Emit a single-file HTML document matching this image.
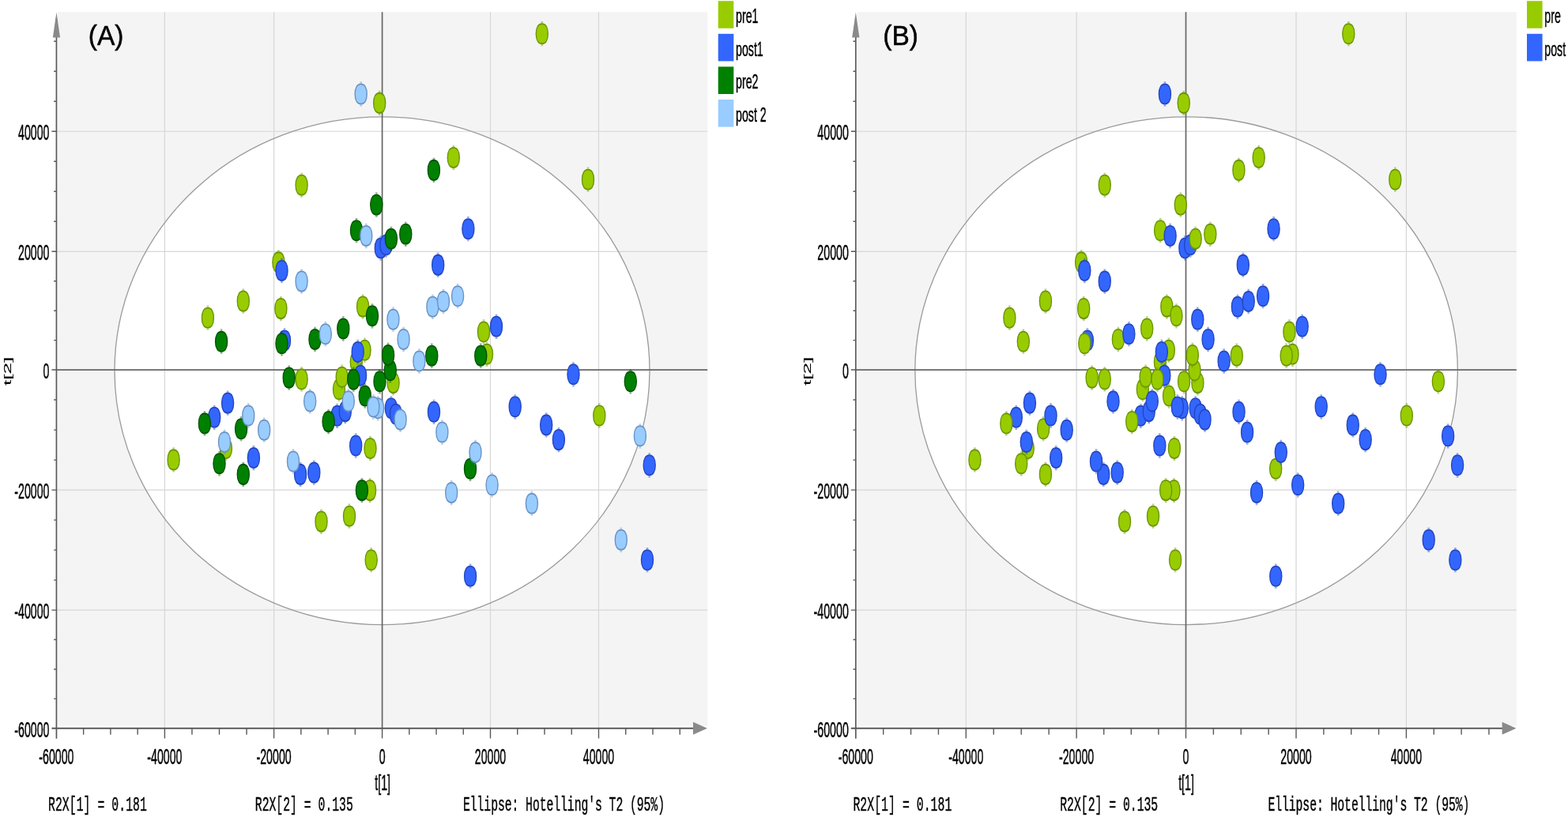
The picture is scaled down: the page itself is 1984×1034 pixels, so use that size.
<!DOCTYPE html>
<html><head><meta charset="utf-8"><title>PCA score plots</title>
<style>
html,body{margin:0;padding:0;background:#fff;}
body{width:1984px;height:1034px;overflow:hidden;}
svg{display:block;}
.t{font-family:"Liberation Sans",Arial,sans-serif;font-size:14.2px;fill:#000;stroke:#000;stroke-width:0.25px;}
.m{font-family:"Liberation Mono","Courier New",monospace;font-size:14.75px;fill:#000;stroke:#000;stroke-width:0.25px;}
.big{font-family:"Liberation Sans",Arial,sans-serif;font-size:33.5px;fill:#000;stroke:#000;stroke-width:0.5px;}
</style></head>
<body>
<svg width="1984" height="1034" viewBox="0 0 1984 1034">
<rect width="1984" height="1034" fill="#fff"/>
<rect x="73.05" y="15.2" width="822.15" height="903.5" fill="#f4f4f4"/>
<ellipse cx="483.5" cy="469.25" rx="338.5" ry="321.35" fill="#ffffff"/>
<line x1="208.4" y1="15.2" x2="208.4" y2="921.8" stroke="#d6d6d6" stroke-width="1.2"/>
<line x1="346.6" y1="15.2" x2="346.6" y2="921.8" stroke="#d6d6d6" stroke-width="1.2"/>
<line x1="620.5" y1="15.2" x2="620.5" y2="921.8" stroke="#d6d6d6" stroke-width="1.2"/>
<line x1="757.5" y1="15.2" x2="757.5" y2="921.8" stroke="#d6d6d6" stroke-width="1.2"/>
<line x1="71.45" y1="166.25" x2="895.2" y2="166.25" stroke="#d6d6d6" stroke-width="1.2"/>
<line x1="71.45" y1="318.3" x2="895.2" y2="318.3" stroke="#d6d6d6" stroke-width="1.2"/>
<line x1="71.45" y1="620.1" x2="895.2" y2="620.1" stroke="#d6d6d6" stroke-width="1.2"/>
<line x1="71.45" y1="772.1" x2="895.2" y2="772.1" stroke="#d6d6d6" stroke-width="1.2"/>
<ellipse cx="483.5" cy="469.25" rx="338.5" ry="321.35" fill="none" stroke="#9a9a9a" stroke-width="1.3"/>
<line x1="483.6" y1="15.2" x2="483.6" y2="921.8" stroke="#666" stroke-width="1.7"/>
<line x1="71.45" y1="468.05" x2="895.2" y2="468.05" stroke="#666" stroke-width="1.7"/>
<line x1="71.45" y1="23.2" x2="71.45" y2="934.8" stroke="#585858" stroke-width="1.7"/>
<line x1="65.45" y1="921.8" x2="887.2" y2="921.8" stroke="#585858" stroke-width="2"/>
<polygon points="66.85,47.4 76.05,47.4 71.45,15.5" fill="#8a8a8a"/>
<polygon points="877,913.8 877,929.8 894.9,921.8" fill="#8a8a8a"/>
<path d="M105.65 921.8v8M139.9 921.8v8M174.15 921.8v8M208.4 921.8v12.6M242.95 921.8v8M277.5 921.8v8M312.05 921.8v8M346.6 921.8v12.6M380.85 921.8v8M415.1 921.8v8M449.35 921.8v8M483.6 921.8v12.6M517.83 921.8v8M552.05 921.8v8M586.27 921.8v8M620.5 921.8v12.6M654.75 921.8v8M689 921.8v8M723.25 921.8v8M757.5 921.8v12.6M791.75 921.8v8M826 921.8v8M860.25 921.8v8M71.45 884.38h-3.3M71.45 846.95h-3.3M71.45 809.52h-3.3M71.45 772.1h-6M71.45 734.1h-3.3M71.45 696.1h-3.3M71.45 658.1h-3.3M71.45 620.1h-6M71.45 582.09h-3.3M71.45 544.08h-3.3M71.45 506.06h-3.3M71.45 468.05h-6M71.45 430.61h-3.3M71.45 393.18h-3.3M71.45 355.74h-3.3M71.45 318.3h-6M71.45 280.29h-3.3M71.45 242.28h-3.3M71.45 204.26h-3.3M71.45 166.25h-6M71.45 128.24h-3.3M71.45 90.22h-3.3M71.45 52.21h-3.3" stroke="#585858" stroke-width="1.4" fill="none"/>
<text class="t" text-anchor="middle" transform="translate(71.4 966.9) scale(1 1.89)">-60000</text>
<text class="t" text-anchor="middle" transform="translate(208.4 966.9) scale(1 1.89)">-40000</text>
<text class="t" text-anchor="middle" transform="translate(346.6 966.9) scale(1 1.89)">-20000</text>
<text class="t" text-anchor="middle" transform="translate(483.6 966.9) scale(1 1.89)">0</text>
<text class="t" text-anchor="middle" transform="translate(620.5 966.9) scale(1 1.89)">20000</text>
<text class="t" text-anchor="middle" transform="translate(757.5 966.9) scale(1 1.89)">40000</text>
<text class="t" text-anchor="end" transform="translate(62.45 177.25) scale(1 1.89)">40000</text>
<text class="t" text-anchor="end" transform="translate(62.45 329.3) scale(1 1.89)">20000</text>
<text class="t" text-anchor="end" transform="translate(62.45 479.05) scale(1 1.89)">0</text>
<text class="t" text-anchor="end" transform="translate(62.45 631.1) scale(1 1.89)">-20000</text>
<text class="t" text-anchor="end" transform="translate(62.45 783.1) scale(1 1.89)">-40000</text>
<text class="t" text-anchor="end" transform="translate(62.45 932.8) scale(1 1.89)">-60000</text>
<text class="t" text-anchor="middle" transform="translate(484.1 1000.3) scale(1 1.89)">t[1]</text>
<text class="t" text-anchor="middle" style="font-size:13.6px;stroke-width:0.1px" transform="translate(14.15 469.9) rotate(-90) scale(1.92 1)">t[2]</text>
<text class="m" textLength="124.9" lengthAdjust="spacing" transform="translate(61 1026.3) scale(1 1.7)">R2X[1] = 0.181</text>
<text class="m" textLength="124" lengthAdjust="spacing" transform="translate(322.8 1026.3) scale(1 1.7)">R2X[2] = 0.135</text>
<text class="m" textLength="255" lengthAdjust="spacing" transform="translate(586 1026.3) scale(1 1.7)">Ellipse: Hotelling's T2 (95%)</text>
<text class="big" transform="translate(111.8 57.3) scale(1 1.04)">(A)</text>
<rect x="908.7" y="1.2" width="19.6" height="34.6" fill="#99cc00"/>
<text class="t" transform="translate(931 29) scale(1 1.78)">pre1</text>
<rect x="908.7" y="42.8" width="19.6" height="34.6" fill="#3366ff"/>
<text class="t" transform="translate(931 70.6) scale(1 1.78)">post1</text>
<rect x="908.7" y="84.4" width="19.6" height="34.6" fill="#008000"/>
<text class="t" transform="translate(931 112.2) scale(1 1.78)">pre2</text>
<rect x="908.7" y="126" width="19.6" height="34.6" fill="#99ccff"/>
<text class="t" transform="translate(931 153.8) scale(1 1.78)">post 2</text>
<g fill="#99cc00" stroke="#6a9600" stroke-width="1.4"><path d="M684.5 27.05h2.6v2.2h-2.6zM684.5 56.15h2.6v2.2h-2.6z" fill="#6a9600" stroke="none" opacity="0.45"/><path transform="translate(685.8 42.7) scale(1 1.3)" d="M7.5 0C7.5 6.03 4.65 9.72 0 9.72C-4.65 9.72 -7.5 6.03 -7.5 0C-7.5 -6.03 -4.65 -9.72 0 -9.72C4.65 -9.72 7.5 -6.03 7.5 0Z"/><path d="M478.9 114.75h2.6v2.2h-2.6zM478.9 143.85h2.6v2.2h-2.6z" fill="#6a9600" stroke="none" opacity="0.45"/><path transform="translate(480.2 130.4) scale(1 1.3)" d="M7.5 0C7.5 6.03 4.65 9.72 0 9.72C-4.65 9.72 -7.5 6.03 -7.5 0C-7.5 -6.03 -4.65 -9.72 0 -9.72C4.65 -9.72 7.5 -6.03 7.5 0Z"/><path d="M572.5 183.85h2.6v2.2h-2.6zM572.5 212.95h2.6v2.2h-2.6z" fill="#6a9600" stroke="none" opacity="0.45"/><path transform="translate(573.8 199.5) scale(1 1.3)" d="M7.5 0C7.5 6.03 4.65 9.72 0 9.72C-4.65 9.72 -7.5 6.03 -7.5 0C-7.5 -6.03 -4.65 -9.72 0 -9.72C4.65 -9.72 7.5 -6.03 7.5 0Z"/><path d="M380.3 218.65h2.6v2.2h-2.6zM380.3 247.75h2.6v2.2h-2.6z" fill="#6a9600" stroke="none" opacity="0.45"/><path transform="translate(381.6 234.3) scale(1 1.3)" d="M7.5 0C7.5 6.03 4.65 9.72 0 9.72C-4.65 9.72 -7.5 6.03 -7.5 0C-7.5 -6.03 -4.65 -9.72 0 -9.72C4.65 -9.72 7.5 -6.03 7.5 0Z"/><path d="M742.7 211.55h2.6v2.2h-2.6zM742.7 240.65h2.6v2.2h-2.6z" fill="#6a9600" stroke="none" opacity="0.45"/><path transform="translate(744 227.2) scale(1 1.3)" d="M7.5 0C7.5 6.03 4.65 9.72 0 9.72C-4.65 9.72 -7.5 6.03 -7.5 0C-7.5 -6.03 -4.65 -9.72 0 -9.72C4.65 -9.72 7.5 -6.03 7.5 0Z"/><path d="M351.1 316.25h2.6v2.2h-2.6zM351.1 345.35h2.6v2.2h-2.6z" fill="#6a9600" stroke="none" opacity="0.45"/><path transform="translate(352.4 331.9) scale(1 1.3)" d="M7.5 0C7.5 6.03 4.65 9.72 0 9.72C-4.65 9.72 -7.5 6.03 -7.5 0C-7.5 -6.03 -4.65 -9.72 0 -9.72C4.65 -9.72 7.5 -6.03 7.5 0Z"/><path d="M306.5 365.45h2.6v2.2h-2.6zM306.5 394.55h2.6v2.2h-2.6z" fill="#6a9600" stroke="none" opacity="0.45"/><path transform="translate(307.8 381.1) scale(1 1.3)" d="M7.5 0C7.5 6.03 4.65 9.72 0 9.72C-4.65 9.72 -7.5 6.03 -7.5 0C-7.5 -6.03 -4.65 -9.72 0 -9.72C4.65 -9.72 7.5 -6.03 7.5 0Z"/><path d="M261.6 386.55h2.6v2.2h-2.6zM261.6 415.65h2.6v2.2h-2.6z" fill="#6a9600" stroke="none" opacity="0.45"/><path transform="translate(262.9 402.2) scale(1 1.3)" d="M7.5 0C7.5 6.03 4.65 9.72 0 9.72C-4.65 9.72 -7.5 6.03 -7.5 0C-7.5 -6.03 -4.65 -9.72 0 -9.72C4.65 -9.72 7.5 -6.03 7.5 0Z"/><path d="M354.1 374.95h2.6v2.2h-2.6zM354.1 404.05h2.6v2.2h-2.6z" fill="#6a9600" stroke="none" opacity="0.45"/><path transform="translate(355.4 390.6) scale(1 1.3)" d="M7.5 0C7.5 6.03 4.65 9.72 0 9.72C-4.65 9.72 -7.5 6.03 -7.5 0C-7.5 -6.03 -4.65 -9.72 0 -9.72C4.65 -9.72 7.5 -6.03 7.5 0Z"/><path d="M457.8 372.45h2.6v2.2h-2.6zM457.8 401.55h2.6v2.2h-2.6z" fill="#6a9600" stroke="none" opacity="0.45"/><path transform="translate(459.1 388.1) scale(1 1.3)" d="M7.5 0C7.5 6.03 4.65 9.72 0 9.72C-4.65 9.72 -7.5 6.03 -7.5 0C-7.5 -6.03 -4.65 -9.72 0 -9.72C4.65 -9.72 7.5 -6.03 7.5 0Z"/><path d="M460.2 427.55h2.6v2.2h-2.6zM460.2 456.65h2.6v2.2h-2.6z" fill="#6a9600" stroke="none" opacity="0.45"/><path transform="translate(461.5 443.2) scale(1 1.3)" d="M7.5 0C7.5 6.03 4.65 9.72 0 9.72C-4.65 9.72 -7.5 6.03 -7.5 0C-7.5 -6.03 -4.65 -9.72 0 -9.72C4.65 -9.72 7.5 -6.03 7.5 0Z"/><path d="M449.5 442.25h2.6v2.2h-2.6zM449.5 471.35h2.6v2.2h-2.6z" fill="#6a9600" stroke="none" opacity="0.45"/><path transform="translate(450.8 457.9) scale(1 1.3)" d="M7.5 0C7.5 6.03 4.65 9.72 0 9.72C-4.65 9.72 -7.5 6.03 -7.5 0C-7.5 -6.03 -4.65 -9.72 0 -9.72C4.65 -9.72 7.5 -6.03 7.5 0Z"/><path d="M380.3 464.25h2.6v2.2h-2.6zM380.3 493.35h2.6v2.2h-2.6z" fill="#6a9600" stroke="none" opacity="0.45"/><path transform="translate(381.6 479.9) scale(1 1.3)" d="M7.5 0C7.5 6.03 4.65 9.72 0 9.72C-4.65 9.72 -7.5 6.03 -7.5 0C-7.5 -6.03 -4.65 -9.72 0 -9.72C4.65 -9.72 7.5 -6.03 7.5 0Z"/><path d="M427.7 477.05h2.6v2.2h-2.6zM427.7 506.15h2.6v2.2h-2.6z" fill="#6a9600" stroke="none" opacity="0.45"/><path transform="translate(429 492.7) scale(1 1.3)" d="M7.5 0C7.5 6.03 4.65 9.72 0 9.72C-4.65 9.72 -7.5 6.03 -7.5 0C-7.5 -6.03 -4.65 -9.72 0 -9.72C4.65 -9.72 7.5 -6.03 7.5 0Z"/><path d="M431.4 461.55h2.6v2.2h-2.6zM431.4 490.65h2.6v2.2h-2.6z" fill="#6a9600" stroke="none" opacity="0.45"/><path transform="translate(432.7 477.2) scale(1 1.3)" d="M7.5 0C7.5 6.03 4.65 9.72 0 9.72C-4.65 9.72 -7.5 6.03 -7.5 0C-7.5 -6.03 -4.65 -9.72 0 -9.72C4.65 -9.72 7.5 -6.03 7.5 0Z"/><path d="M496.3 468.95h2.6v2.2h-2.6zM496.3 498.05h2.6v2.2h-2.6z" fill="#6a9600" stroke="none" opacity="0.45"/><path transform="translate(497.6 484.6) scale(1 1.3)" d="M7.5 0C7.5 6.03 4.65 9.72 0 9.72C-4.65 9.72 -7.5 6.03 -7.5 0C-7.5 -6.03 -4.65 -9.72 0 -9.72C4.65 -9.72 7.5 -6.03 7.5 0Z"/><path d="M610.7 404.35h2.6v2.2h-2.6zM610.7 433.45h2.6v2.2h-2.6z" fill="#6a9600" stroke="none" opacity="0.45"/><path transform="translate(612 420) scale(1 1.3)" d="M7.5 0C7.5 6.03 4.65 9.72 0 9.72C-4.65 9.72 -7.5 6.03 -7.5 0C-7.5 -6.03 -4.65 -9.72 0 -9.72C4.65 -9.72 7.5 -6.03 7.5 0Z"/><path d="M614.7 432.65h2.6v2.2h-2.6zM614.7 461.75h2.6v2.2h-2.6z" fill="#6a9600" stroke="none" opacity="0.45"/><path transform="translate(616 448.3) scale(1 1.3)" d="M7.5 0C7.5 6.03 4.65 9.72 0 9.72C-4.65 9.72 -7.5 6.03 -7.5 0C-7.5 -6.03 -4.65 -9.72 0 -9.72C4.65 -9.72 7.5 -6.03 7.5 0Z"/><path d="M757 510.35h2.6v2.2h-2.6zM757 539.45h2.6v2.2h-2.6z" fill="#6a9600" stroke="none" opacity="0.45"/><path transform="translate(758.3 526) scale(1 1.3)" d="M7.5 0C7.5 6.03 4.65 9.72 0 9.72C-4.65 9.72 -7.5 6.03 -7.5 0C-7.5 -6.03 -4.65 -9.72 0 -9.72C4.65 -9.72 7.5 -6.03 7.5 0Z"/><path d="M467.2 551.85h2.6v2.2h-2.6zM467.2 580.95h2.6v2.2h-2.6z" fill="#6a9600" stroke="none" opacity="0.45"/><path transform="translate(468.5 567.5) scale(1 1.3)" d="M7.5 0C7.5 6.03 4.65 9.72 0 9.72C-4.65 9.72 -7.5 6.03 -7.5 0C-7.5 -6.03 -4.65 -9.72 0 -9.72C4.65 -9.72 7.5 -6.03 7.5 0Z"/><path d="M284.6 551.85h2.6v2.2h-2.6zM284.6 580.95h2.6v2.2h-2.6z" fill="#6a9600" stroke="none" opacity="0.45"/><path transform="translate(285.9 567.5) scale(1 1.3)" d="M7.5 0C7.5 6.03 4.65 9.72 0 9.72C-4.65 9.72 -7.5 6.03 -7.5 0C-7.5 -6.03 -4.65 -9.72 0 -9.72C4.65 -9.72 7.5 -6.03 7.5 0Z"/><path d="M218.3 566.25h2.6v2.2h-2.6zM218.3 595.35h2.6v2.2h-2.6z" fill="#6a9600" stroke="none" opacity="0.45"/><path transform="translate(219.6 581.9) scale(1 1.3)" d="M7.5 0C7.5 6.03 4.65 9.72 0 9.72C-4.65 9.72 -7.5 6.03 -7.5 0C-7.5 -6.03 -4.65 -9.72 0 -9.72C4.65 -9.72 7.5 -6.03 7.5 0Z"/><path d="M466.8 604.95h2.6v2.2h-2.6zM466.8 634.05h2.6v2.2h-2.6z" fill="#6a9600" stroke="none" opacity="0.45"/><path transform="translate(468.1 620.6) scale(1 1.3)" d="M7.5 0C7.5 6.03 4.65 9.72 0 9.72C-4.65 9.72 -7.5 6.03 -7.5 0C-7.5 -6.03 -4.65 -9.72 0 -9.72C4.65 -9.72 7.5 -6.03 7.5 0Z"/><path d="M405.2 644.45h2.6v2.2h-2.6zM405.2 673.55h2.6v2.2h-2.6z" fill="#6a9600" stroke="none" opacity="0.45"/><path transform="translate(406.5 660.1) scale(1 1.3)" d="M7.5 0C7.5 6.03 4.65 9.72 0 9.72C-4.65 9.72 -7.5 6.03 -7.5 0C-7.5 -6.03 -4.65 -9.72 0 -9.72C4.65 -9.72 7.5 -6.03 7.5 0Z"/><path d="M440.7 637.55h2.6v2.2h-2.6zM440.7 666.65h2.6v2.2h-2.6z" fill="#6a9600" stroke="none" opacity="0.45"/><path transform="translate(442 653.2) scale(1 1.3)" d="M7.5 0C7.5 6.03 4.65 9.72 0 9.72C-4.65 9.72 -7.5 6.03 -7.5 0C-7.5 -6.03 -4.65 -9.72 0 -9.72C4.65 -9.72 7.5 -6.03 7.5 0Z"/><path d="M468.4 693.05h2.6v2.2h-2.6zM468.4 722.15h2.6v2.2h-2.6z" fill="#6a9600" stroke="none" opacity="0.45"/><path transform="translate(469.7 708.7) scale(1 1.3)" d="M7.5 0C7.5 6.03 4.65 9.72 0 9.72C-4.65 9.72 -7.5 6.03 -7.5 0C-7.5 -6.03 -4.65 -9.72 0 -9.72C4.65 -9.72 7.5 -6.03 7.5 0Z"/></g>
<g fill="#3366ff" stroke="#2446c0" stroke-width="1.4"><path d="M591.1 274.05h2.6v2.2h-2.6zM591.1 303.15h2.6v2.2h-2.6z" fill="#2446c0" stroke="none" opacity="0.45"/><path transform="translate(592.4 289.7) scale(1 1.3)" d="M7.5 0C7.5 6.03 4.65 9.72 0 9.72C-4.65 9.72 -7.5 6.03 -7.5 0C-7.5 -6.03 -4.65 -9.72 0 -9.72C4.65 -9.72 7.5 -6.03 7.5 0Z"/><path d="M480.5 298.35h2.6v2.2h-2.6zM480.5 327.45h2.6v2.2h-2.6z" fill="#2446c0" stroke="none" opacity="0.45"/><path transform="translate(481.8 314) scale(1 1.3)" d="M7.5 0C7.5 6.03 4.65 9.72 0 9.72C-4.65 9.72 -7.5 6.03 -7.5 0C-7.5 -6.03 -4.65 -9.72 0 -9.72C4.65 -9.72 7.5 -6.03 7.5 0Z"/><path d="M487.2 294.35h2.6v2.2h-2.6zM487.2 323.45h2.6v2.2h-2.6z" fill="#2446c0" stroke="none" opacity="0.45"/><path transform="translate(488.5 310) scale(1 1.3)" d="M7.5 0C7.5 6.03 4.65 9.72 0 9.72C-4.65 9.72 -7.5 6.03 -7.5 0C-7.5 -6.03 -4.65 -9.72 0 -9.72C4.65 -9.72 7.5 -6.03 7.5 0Z"/><path d="M552.9 319.75h2.6v2.2h-2.6zM552.9 348.85h2.6v2.2h-2.6z" fill="#2446c0" stroke="none" opacity="0.45"/><path transform="translate(554.2 335.4) scale(1 1.3)" d="M7.5 0C7.5 6.03 4.65 9.72 0 9.72C-4.65 9.72 -7.5 6.03 -7.5 0C-7.5 -6.03 -4.65 -9.72 0 -9.72C4.65 -9.72 7.5 -6.03 7.5 0Z"/><path d="M355.2 326.85h2.6v2.2h-2.6zM355.2 355.95h2.6v2.2h-2.6z" fill="#2446c0" stroke="none" opacity="0.45"/><path transform="translate(356.5 342.5) scale(1 1.3)" d="M7.5 0C7.5 6.03 4.65 9.72 0 9.72C-4.65 9.72 -7.5 6.03 -7.5 0C-7.5 -6.03 -4.65 -9.72 0 -9.72C4.65 -9.72 7.5 -6.03 7.5 0Z"/><path d="M358.7 415.35h2.6v2.2h-2.6zM358.7 444.45h2.6v2.2h-2.6z" fill="#2446c0" stroke="none" opacity="0.45"/><path transform="translate(360 431) scale(1 1.3)" d="M7.5 0C7.5 6.03 4.65 9.72 0 9.72C-4.65 9.72 -7.5 6.03 -7.5 0C-7.5 -6.03 -4.65 -9.72 0 -9.72C4.65 -9.72 7.5 -6.03 7.5 0Z"/><path d="M451.4 429.85h2.6v2.2h-2.6zM451.4 458.95h2.6v2.2h-2.6z" fill="#2446c0" stroke="none" opacity="0.45"/><path transform="translate(452.7 445.5) scale(1 1.3)" d="M7.5 0C7.5 6.03 4.65 9.72 0 9.72C-4.65 9.72 -7.5 6.03 -7.5 0C-7.5 -6.03 -4.65 -9.72 0 -9.72C4.65 -9.72 7.5 -6.03 7.5 0Z"/><path d="M454.8 459.65h2.6v2.2h-2.6zM454.8 488.75h2.6v2.2h-2.6z" fill="#2446c0" stroke="none" opacity="0.45"/><path transform="translate(456.1 475.3) scale(1 1.3)" d="M7.5 0C7.5 6.03 4.65 9.72 0 9.72C-4.65 9.72 -7.5 6.03 -7.5 0C-7.5 -6.03 -4.65 -9.72 0 -9.72C4.65 -9.72 7.5 -6.03 7.5 0Z"/><path d="M626.7 397.65h2.6v2.2h-2.6zM626.7 426.75h2.6v2.2h-2.6z" fill="#2446c0" stroke="none" opacity="0.45"/><path transform="translate(628 413.3) scale(1 1.3)" d="M7.5 0C7.5 6.03 4.65 9.72 0 9.72C-4.65 9.72 -7.5 6.03 -7.5 0C-7.5 -6.03 -4.65 -9.72 0 -9.72C4.65 -9.72 7.5 -6.03 7.5 0Z"/><path d="M724.2 458.15h2.6v2.2h-2.6zM724.2 487.25h2.6v2.2h-2.6z" fill="#2446c0" stroke="none" opacity="0.45"/><path transform="translate(725.5 473.8) scale(1 1.3)" d="M7.5 0C7.5 6.03 4.65 9.72 0 9.72C-4.65 9.72 -7.5 6.03 -7.5 0C-7.5 -6.03 -4.65 -9.72 0 -9.72C4.65 -9.72 7.5 -6.03 7.5 0Z"/><path d="M425.3 510.65h2.6v2.2h-2.6zM425.3 539.75h2.6v2.2h-2.6z" fill="#2446c0" stroke="none" opacity="0.45"/><path transform="translate(426.6 526.3) scale(1 1.3)" d="M7.5 0C7.5 6.03 4.65 9.72 0 9.72C-4.65 9.72 -7.5 6.03 -7.5 0C-7.5 -6.03 -4.65 -9.72 0 -9.72C4.65 -9.72 7.5 -6.03 7.5 0Z"/><path d="M435.5 504.95h2.6v2.2h-2.6zM435.5 534.05h2.6v2.2h-2.6z" fill="#2446c0" stroke="none" opacity="0.45"/><path transform="translate(436.8 520.6) scale(1 1.3)" d="M7.5 0C7.5 6.03 4.65 9.72 0 9.72C-4.65 9.72 -7.5 6.03 -7.5 0C-7.5 -6.03 -4.65 -9.72 0 -9.72C4.65 -9.72 7.5 -6.03 7.5 0Z"/><path d="M493.6 501.15h2.6v2.2h-2.6zM493.6 530.25h2.6v2.2h-2.6z" fill="#2446c0" stroke="none" opacity="0.45"/><path transform="translate(494.9 516.8) scale(1 1.3)" d="M7.5 0C7.5 6.03 4.65 9.72 0 9.72C-4.65 9.72 -7.5 6.03 -7.5 0C-7.5 -6.03 -4.65 -9.72 0 -9.72C4.65 -9.72 7.5 -6.03 7.5 0Z"/><path d="M499.6 508.65h2.6v2.2h-2.6zM499.6 537.75h2.6v2.2h-2.6z" fill="#2446c0" stroke="none" opacity="0.45"/><path transform="translate(500.9 524.3) scale(1 1.3)" d="M7.5 0C7.5 6.03 4.65 9.72 0 9.72C-4.65 9.72 -7.5 6.03 -7.5 0C-7.5 -6.03 -4.65 -9.72 0 -9.72C4.65 -9.72 7.5 -6.03 7.5 0Z"/><path d="M547.7 505.65h2.6v2.2h-2.6zM547.7 534.75h2.6v2.2h-2.6z" fill="#2446c0" stroke="none" opacity="0.45"/><path transform="translate(549 521.3) scale(1 1.3)" d="M7.5 0C7.5 6.03 4.65 9.72 0 9.72C-4.65 9.72 -7.5 6.03 -7.5 0C-7.5 -6.03 -4.65 -9.72 0 -9.72C4.65 -9.72 7.5 -6.03 7.5 0Z"/><path d="M650.4 499.15h2.6v2.2h-2.6zM650.4 528.25h2.6v2.2h-2.6z" fill="#2446c0" stroke="none" opacity="0.45"/><path transform="translate(651.7 514.8) scale(1 1.3)" d="M7.5 0C7.5 6.03 4.65 9.72 0 9.72C-4.65 9.72 -7.5 6.03 -7.5 0C-7.5 -6.03 -4.65 -9.72 0 -9.72C4.65 -9.72 7.5 -6.03 7.5 0Z"/><path d="M689.9 522.25h2.6v2.2h-2.6zM689.9 551.35h2.6v2.2h-2.6z" fill="#2446c0" stroke="none" opacity="0.45"/><path transform="translate(691.2 537.9) scale(1 1.3)" d="M7.5 0C7.5 6.03 4.65 9.72 0 9.72C-4.65 9.72 -7.5 6.03 -7.5 0C-7.5 -6.03 -4.65 -9.72 0 -9.72C4.65 -9.72 7.5 -6.03 7.5 0Z"/><path d="M705.6 540.95h2.6v2.2h-2.6zM705.6 570.05h2.6v2.2h-2.6z" fill="#2446c0" stroke="none" opacity="0.45"/><path transform="translate(706.9 556.6) scale(1 1.3)" d="M7.5 0C7.5 6.03 4.65 9.72 0 9.72C-4.65 9.72 -7.5 6.03 -7.5 0C-7.5 -6.03 -4.65 -9.72 0 -9.72C4.65 -9.72 7.5 -6.03 7.5 0Z"/><path d="M286.8 494.45h2.6v2.2h-2.6zM286.8 523.55h2.6v2.2h-2.6z" fill="#2446c0" stroke="none" opacity="0.45"/><path transform="translate(288.1 510.1) scale(1 1.3)" d="M7.5 0C7.5 6.03 4.65 9.72 0 9.72C-4.65 9.72 -7.5 6.03 -7.5 0C-7.5 -6.03 -4.65 -9.72 0 -9.72C4.65 -9.72 7.5 -6.03 7.5 0Z"/><path d="M269.9 512.65h2.6v2.2h-2.6zM269.9 541.75h2.6v2.2h-2.6z" fill="#2446c0" stroke="none" opacity="0.45"/><path transform="translate(271.2 528.3) scale(1 1.3)" d="M7.5 0C7.5 6.03 4.65 9.72 0 9.72C-4.65 9.72 -7.5 6.03 -7.5 0C-7.5 -6.03 -4.65 -9.72 0 -9.72C4.65 -9.72 7.5 -6.03 7.5 0Z"/><path d="M448.9 548.35h2.6v2.2h-2.6zM448.9 577.45h2.6v2.2h-2.6z" fill="#2446c0" stroke="none" opacity="0.45"/><path transform="translate(450.2 564) scale(1 1.3)" d="M7.5 0C7.5 6.03 4.65 9.72 0 9.72C-4.65 9.72 -7.5 6.03 -7.5 0C-7.5 -6.03 -4.65 -9.72 0 -9.72C4.65 -9.72 7.5 -6.03 7.5 0Z"/><path d="M319.6 563.85h2.6v2.2h-2.6zM319.6 592.95h2.6v2.2h-2.6z" fill="#2446c0" stroke="none" opacity="0.45"/><path transform="translate(320.9 579.5) scale(1 1.3)" d="M7.5 0C7.5 6.03 4.65 9.72 0 9.72C-4.65 9.72 -7.5 6.03 -7.5 0C-7.5 -6.03 -4.65 -9.72 0 -9.72C4.65 -9.72 7.5 -6.03 7.5 0Z"/><path d="M378.8 584.75h2.6v2.2h-2.6zM378.8 613.85h2.6v2.2h-2.6z" fill="#2446c0" stroke="none" opacity="0.45"/><path transform="translate(380.1 600.4) scale(1 1.3)" d="M7.5 0C7.5 6.03 4.65 9.72 0 9.72C-4.65 9.72 -7.5 6.03 -7.5 0C-7.5 -6.03 -4.65 -9.72 0 -9.72C4.65 -9.72 7.5 -6.03 7.5 0Z"/><path d="M396 582.45h2.6v2.2h-2.6zM396 611.55h2.6v2.2h-2.6z" fill="#2446c0" stroke="none" opacity="0.45"/><path transform="translate(397.3 598.1) scale(1 1.3)" d="M7.5 0C7.5 6.03 4.65 9.72 0 9.72C-4.65 9.72 -7.5 6.03 -7.5 0C-7.5 -6.03 -4.65 -9.72 0 -9.72C4.65 -9.72 7.5 -6.03 7.5 0Z"/><path d="M820.4 573.15h2.6v2.2h-2.6zM820.4 602.25h2.6v2.2h-2.6z" fill="#2446c0" stroke="none" opacity="0.45"/><path transform="translate(821.7 588.8) scale(1 1.3)" d="M7.5 0C7.5 6.03 4.65 9.72 0 9.72C-4.65 9.72 -7.5 6.03 -7.5 0C-7.5 -6.03 -4.65 -9.72 0 -9.72C4.65 -9.72 7.5 -6.03 7.5 0Z"/><path d="M593.8 713.55h2.6v2.2h-2.6zM593.8 742.65h2.6v2.2h-2.6z" fill="#2446c0" stroke="none" opacity="0.45"/><path transform="translate(595.1 729.2) scale(1 1.3)" d="M7.5 0C7.5 6.03 4.65 9.72 0 9.72C-4.65 9.72 -7.5 6.03 -7.5 0C-7.5 -6.03 -4.65 -9.72 0 -9.72C4.65 -9.72 7.5 -6.03 7.5 0Z"/><path d="M817.7 693.05h2.6v2.2h-2.6zM817.7 722.15h2.6v2.2h-2.6z" fill="#2446c0" stroke="none" opacity="0.45"/><path transform="translate(819 708.7) scale(1 1.3)" d="M7.5 0C7.5 6.03 4.65 9.72 0 9.72C-4.65 9.72 -7.5 6.03 -7.5 0C-7.5 -6.03 -4.65 -9.72 0 -9.72C4.65 -9.72 7.5 -6.03 7.5 0Z"/></g>
<g fill="#008000" stroke="#005400" stroke-width="1.4"><path d="M475 243.55h2.6v2.2h-2.6zM475 272.65h2.6v2.2h-2.6z" fill="#005400" stroke="none" opacity="0.45"/><path transform="translate(476.3 259.2) scale(1 1.3)" d="M7.5 0C7.5 6.03 4.65 9.72 0 9.72C-4.65 9.72 -7.5 6.03 -7.5 0C-7.5 -6.03 -4.65 -9.72 0 -9.72C4.65 -9.72 7.5 -6.03 7.5 0Z"/><path d="M547.6 199.75h2.6v2.2h-2.6zM547.6 228.85h2.6v2.2h-2.6z" fill="#005400" stroke="none" opacity="0.45"/><path transform="translate(548.9 215.4) scale(1 1.3)" d="M7.5 0C7.5 6.03 4.65 9.72 0 9.72C-4.65 9.72 -7.5 6.03 -7.5 0C-7.5 -6.03 -4.65 -9.72 0 -9.72C4.65 -9.72 7.5 -6.03 7.5 0Z"/><path d="M449.7 276.05h2.6v2.2h-2.6zM449.7 305.15h2.6v2.2h-2.6z" fill="#005400" stroke="none" opacity="0.45"/><path transform="translate(451 291.7) scale(1 1.3)" d="M7.5 0C7.5 6.03 4.65 9.72 0 9.72C-4.65 9.72 -7.5 6.03 -7.5 0C-7.5 -6.03 -4.65 -9.72 0 -9.72C4.65 -9.72 7.5 -6.03 7.5 0Z"/><path d="M512 280.65h2.6v2.2h-2.6zM512 309.75h2.6v2.2h-2.6z" fill="#005400" stroke="none" opacity="0.45"/><path transform="translate(513.3 296.3) scale(1 1.3)" d="M7.5 0C7.5 6.03 4.65 9.72 0 9.72C-4.65 9.72 -7.5 6.03 -7.5 0C-7.5 -6.03 -4.65 -9.72 0 -9.72C4.65 -9.72 7.5 -6.03 7.5 0Z"/><path d="M493.6 286.65h2.6v2.2h-2.6zM493.6 315.75h2.6v2.2h-2.6z" fill="#005400" stroke="none" opacity="0.45"/><path transform="translate(494.9 302.3) scale(1 1.3)" d="M7.5 0C7.5 6.03 4.65 9.72 0 9.72C-4.65 9.72 -7.5 6.03 -7.5 0C-7.5 -6.03 -4.65 -9.72 0 -9.72C4.65 -9.72 7.5 -6.03 7.5 0Z"/><path d="M278.8 416.55h2.6v2.2h-2.6zM278.8 445.65h2.6v2.2h-2.6z" fill="#005400" stroke="none" opacity="0.45"/><path transform="translate(280.1 432.2) scale(1 1.3)" d="M7.5 0C7.5 6.03 4.65 9.72 0 9.72C-4.65 9.72 -7.5 6.03 -7.5 0C-7.5 -6.03 -4.65 -9.72 0 -9.72C4.65 -9.72 7.5 -6.03 7.5 0Z"/><path d="M355.2 419.15h2.6v2.2h-2.6zM355.2 448.25h2.6v2.2h-2.6z" fill="#005400" stroke="none" opacity="0.45"/><path transform="translate(356.5 434.8) scale(1 1.3)" d="M7.5 0C7.5 6.03 4.65 9.72 0 9.72C-4.65 9.72 -7.5 6.03 -7.5 0C-7.5 -6.03 -4.65 -9.72 0 -9.72C4.65 -9.72 7.5 -6.03 7.5 0Z"/><path d="M397.2 413.85h2.6v2.2h-2.6zM397.2 442.95h2.6v2.2h-2.6z" fill="#005400" stroke="none" opacity="0.45"/><path transform="translate(398.5 429.5) scale(1 1.3)" d="M7.5 0C7.5 6.03 4.65 9.72 0 9.72C-4.65 9.72 -7.5 6.03 -7.5 0C-7.5 -6.03 -4.65 -9.72 0 -9.72C4.65 -9.72 7.5 -6.03 7.5 0Z"/><path d="M433 400.35h2.6v2.2h-2.6zM433 429.45h2.6v2.2h-2.6z" fill="#005400" stroke="none" opacity="0.45"/><path transform="translate(434.3 416) scale(1 1.3)" d="M7.5 0C7.5 6.03 4.65 9.72 0 9.72C-4.65 9.72 -7.5 6.03 -7.5 0C-7.5 -6.03 -4.65 -9.72 0 -9.72C4.65 -9.72 7.5 -6.03 7.5 0Z"/><path d="M469.7 384.15h2.6v2.2h-2.6zM469.7 413.25h2.6v2.2h-2.6z" fill="#005400" stroke="none" opacity="0.45"/><path transform="translate(471 399.8) scale(1 1.3)" d="M7.5 0C7.5 6.03 4.65 9.72 0 9.72C-4.65 9.72 -7.5 6.03 -7.5 0C-7.5 -6.03 -4.65 -9.72 0 -9.72C4.65 -9.72 7.5 -6.03 7.5 0Z"/><path d="M492.5 453.15h2.6v2.2h-2.6zM492.5 482.25h2.6v2.2h-2.6z" fill="#005400" stroke="none" opacity="0.45"/><path transform="translate(493.8 468.8) scale(1 1.3)" d="M7.5 0C7.5 6.03 4.65 9.72 0 9.72C-4.65 9.72 -7.5 6.03 -7.5 0C-7.5 -6.03 -4.65 -9.72 0 -9.72C4.65 -9.72 7.5 -6.03 7.5 0Z"/><path d="M489.8 433.85h2.6v2.2h-2.6zM489.8 462.95h2.6v2.2h-2.6z" fill="#005400" stroke="none" opacity="0.45"/><path transform="translate(491.1 449.5) scale(1 1.3)" d="M7.5 0C7.5 6.03 4.65 9.72 0 9.72C-4.65 9.72 -7.5 6.03 -7.5 0C-7.5 -6.03 -4.65 -9.72 0 -9.72C4.65 -9.72 7.5 -6.03 7.5 0Z"/><path d="M479.2 467.15h2.6v2.2h-2.6zM479.2 496.25h2.6v2.2h-2.6z" fill="#005400" stroke="none" opacity="0.45"/><path transform="translate(480.5 482.8) scale(1 1.3)" d="M7.5 0C7.5 6.03 4.65 9.72 0 9.72C-4.65 9.72 -7.5 6.03 -7.5 0C-7.5 -6.03 -4.65 -9.72 0 -9.72C4.65 -9.72 7.5 -6.03 7.5 0Z"/><path d="M545 434.55h2.6v2.2h-2.6zM545 463.65h2.6v2.2h-2.6z" fill="#005400" stroke="none" opacity="0.45"/><path transform="translate(546.3 450.2) scale(1 1.3)" d="M7.5 0C7.5 6.03 4.65 9.72 0 9.72C-4.65 9.72 -7.5 6.03 -7.5 0C-7.5 -6.03 -4.65 -9.72 0 -9.72C4.65 -9.72 7.5 -6.03 7.5 0Z"/><path d="M607 434.55h2.6v2.2h-2.6zM607 463.65h2.6v2.2h-2.6z" fill="#005400" stroke="none" opacity="0.45"/><path transform="translate(608.3 450.2) scale(1 1.3)" d="M7.5 0C7.5 6.03 4.65 9.72 0 9.72C-4.65 9.72 -7.5 6.03 -7.5 0C-7.5 -6.03 -4.65 -9.72 0 -9.72C4.65 -9.72 7.5 -6.03 7.5 0Z"/><path d="M364.4 462.45h2.6v2.2h-2.6zM364.4 491.55h2.6v2.2h-2.6z" fill="#005400" stroke="none" opacity="0.45"/><path transform="translate(365.7 478.1) scale(1 1.3)" d="M7.5 0C7.5 6.03 4.65 9.72 0 9.72C-4.65 9.72 -7.5 6.03 -7.5 0C-7.5 -6.03 -4.65 -9.72 0 -9.72C4.65 -9.72 7.5 -6.03 7.5 0Z"/><path d="M446 464.55h2.6v2.2h-2.6zM446 493.65h2.6v2.2h-2.6z" fill="#005400" stroke="none" opacity="0.45"/><path transform="translate(447.3 480.2) scale(1 1.3)" d="M7.5 0C7.5 6.03 4.65 9.72 0 9.72C-4.65 9.72 -7.5 6.03 -7.5 0C-7.5 -6.03 -4.65 -9.72 0 -9.72C4.65 -9.72 7.5 -6.03 7.5 0Z"/><path d="M460.5 485.35h2.6v2.2h-2.6zM460.5 514.45h2.6v2.2h-2.6z" fill="#005400" stroke="none" opacity="0.45"/><path transform="translate(461.8 501) scale(1 1.3)" d="M7.5 0C7.5 6.03 4.65 9.72 0 9.72C-4.65 9.72 -7.5 6.03 -7.5 0C-7.5 -6.03 -4.65 -9.72 0 -9.72C4.65 -9.72 7.5 -6.03 7.5 0Z"/><path d="M796.5 467.15h2.6v2.2h-2.6zM796.5 496.25h2.6v2.2h-2.6z" fill="#005400" stroke="none" opacity="0.45"/><path transform="translate(797.8 482.8) scale(1 1.3)" d="M7.5 0C7.5 6.03 4.65 9.72 0 9.72C-4.65 9.72 -7.5 6.03 -7.5 0C-7.5 -6.03 -4.65 -9.72 0 -9.72C4.65 -9.72 7.5 -6.03 7.5 0Z"/><path d="M414.3 517.95h2.6v2.2h-2.6zM414.3 547.05h2.6v2.2h-2.6z" fill="#005400" stroke="none" opacity="0.45"/><path transform="translate(415.6 533.6) scale(1 1.3)" d="M7.5 0C7.5 6.03 4.65 9.72 0 9.72C-4.65 9.72 -7.5 6.03 -7.5 0C-7.5 -6.03 -4.65 -9.72 0 -9.72C4.65 -9.72 7.5 -6.03 7.5 0Z"/><path d="M257.6 520.25h2.6v2.2h-2.6zM257.6 549.35h2.6v2.2h-2.6z" fill="#005400" stroke="none" opacity="0.45"/><path transform="translate(258.9 535.9) scale(1 1.3)" d="M7.5 0C7.5 6.03 4.65 9.72 0 9.72C-4.65 9.72 -7.5 6.03 -7.5 0C-7.5 -6.03 -4.65 -9.72 0 -9.72C4.65 -9.72 7.5 -6.03 7.5 0Z"/><path d="M303.8 527.05h2.6v2.2h-2.6zM303.8 556.15h2.6v2.2h-2.6z" fill="#005400" stroke="none" opacity="0.45"/><path transform="translate(305.1 542.7) scale(1 1.3)" d="M7.5 0C7.5 6.03 4.65 9.72 0 9.72C-4.65 9.72 -7.5 6.03 -7.5 0C-7.5 -6.03 -4.65 -9.72 0 -9.72C4.65 -9.72 7.5 -6.03 7.5 0Z"/><path d="M276.2 571.15h2.6v2.2h-2.6zM276.2 600.25h2.6v2.2h-2.6z" fill="#005400" stroke="none" opacity="0.45"/><path transform="translate(277.5 586.8) scale(1 1.3)" d="M7.5 0C7.5 6.03 4.65 9.72 0 9.72C-4.65 9.72 -7.5 6.03 -7.5 0C-7.5 -6.03 -4.65 -9.72 0 -9.72C4.65 -9.72 7.5 -6.03 7.5 0Z"/><path d="M306.5 584.75h2.6v2.2h-2.6zM306.5 613.85h2.6v2.2h-2.6z" fill="#005400" stroke="none" opacity="0.45"/><path transform="translate(307.8 600.4) scale(1 1.3)" d="M7.5 0C7.5 6.03 4.65 9.72 0 9.72C-4.65 9.72 -7.5 6.03 -7.5 0C-7.5 -6.03 -4.65 -9.72 0 -9.72C4.65 -9.72 7.5 -6.03 7.5 0Z"/><path d="M456.6 604.95h2.6v2.2h-2.6zM456.6 634.05h2.6v2.2h-2.6z" fill="#005400" stroke="none" opacity="0.45"/><path transform="translate(457.9 620.6) scale(1 1.3)" d="M7.5 0C7.5 6.03 4.65 9.72 0 9.72C-4.65 9.72 -7.5 6.03 -7.5 0C-7.5 -6.03 -4.65 -9.72 0 -9.72C4.65 -9.72 7.5 -6.03 7.5 0Z"/><path d="M593.7 577.65h2.6v2.2h-2.6zM593.7 606.75h2.6v2.2h-2.6z" fill="#005400" stroke="none" opacity="0.45"/><path transform="translate(595 593.3) scale(1 1.3)" d="M7.5 0C7.5 6.03 4.65 9.72 0 9.72C-4.65 9.72 -7.5 6.03 -7.5 0C-7.5 -6.03 -4.65 -9.72 0 -9.72C4.65 -9.72 7.5 -6.03 7.5 0Z"/></g>
<g fill="#99ccff" stroke="#6a92c4" stroke-width="1.4"><path d="M455.4 103.35h2.6v2.2h-2.6zM455.4 132.45h2.6v2.2h-2.6z" fill="#6a92c4" stroke="none" opacity="0.45"/><path transform="translate(456.7 119) scale(1 1.3)" d="M7.5 0C7.5 6.03 4.65 9.72 0 9.72C-4.65 9.72 -7.5 6.03 -7.5 0C-7.5 -6.03 -4.65 -9.72 0 -9.72C4.65 -9.72 7.5 -6.03 7.5 0Z"/><path d="M462 282.85h2.6v2.2h-2.6zM462 311.95h2.6v2.2h-2.6z" fill="#6a92c4" stroke="none" opacity="0.45"/><path transform="translate(463.3 298.5) scale(1 1.3)" d="M7.5 0C7.5 6.03 4.65 9.72 0 9.72C-4.65 9.72 -7.5 6.03 -7.5 0C-7.5 -6.03 -4.65 -9.72 0 -9.72C4.65 -9.72 7.5 -6.03 7.5 0Z"/><path d="M380.3 340.45h2.6v2.2h-2.6zM380.3 369.55h2.6v2.2h-2.6z" fill="#6a92c4" stroke="none" opacity="0.45"/><path transform="translate(381.6 356.1) scale(1 1.3)" d="M7.5 0C7.5 6.03 4.65 9.72 0 9.72C-4.65 9.72 -7.5 6.03 -7.5 0C-7.5 -6.03 -4.65 -9.72 0 -9.72C4.65 -9.72 7.5 -6.03 7.5 0Z"/><path d="M410.5 407.05h2.6v2.2h-2.6zM410.5 436.15h2.6v2.2h-2.6z" fill="#6a92c4" stroke="none" opacity="0.45"/><path transform="translate(411.8 422.7) scale(1 1.3)" d="M7.5 0C7.5 6.03 4.65 9.72 0 9.72C-4.65 9.72 -7.5 6.03 -7.5 0C-7.5 -6.03 -4.65 -9.72 0 -9.72C4.65 -9.72 7.5 -6.03 7.5 0Z"/><path d="M496.2 388.55h2.6v2.2h-2.6zM496.2 417.65h2.6v2.2h-2.6z" fill="#6a92c4" stroke="none" opacity="0.45"/><path transform="translate(497.5 404.2) scale(1 1.3)" d="M7.5 0C7.5 6.03 4.65 9.72 0 9.72C-4.65 9.72 -7.5 6.03 -7.5 0C-7.5 -6.03 -4.65 -9.72 0 -9.72C4.65 -9.72 7.5 -6.03 7.5 0Z"/><path d="M509.3 413.85h2.6v2.2h-2.6zM509.3 442.95h2.6v2.2h-2.6z" fill="#6a92c4" stroke="none" opacity="0.45"/><path transform="translate(510.6 429.5) scale(1 1.3)" d="M7.5 0C7.5 6.03 4.65 9.72 0 9.72C-4.65 9.72 -7.5 6.03 -7.5 0C-7.5 -6.03 -4.65 -9.72 0 -9.72C4.65 -9.72 7.5 -6.03 7.5 0Z"/><path d="M546.1 372.65h2.6v2.2h-2.6zM546.1 401.75h2.6v2.2h-2.6z" fill="#6a92c4" stroke="none" opacity="0.45"/><path transform="translate(547.4 388.3) scale(1 1.3)" d="M7.5 0C7.5 6.03 4.65 9.72 0 9.72C-4.65 9.72 -7.5 6.03 -7.5 0C-7.5 -6.03 -4.65 -9.72 0 -9.72C4.65 -9.72 7.5 -6.03 7.5 0Z"/><path d="M559.7 365.85h2.6v2.2h-2.6zM559.7 394.95h2.6v2.2h-2.6z" fill="#6a92c4" stroke="none" opacity="0.45"/><path transform="translate(561 381.5) scale(1 1.3)" d="M7.5 0C7.5 6.03 4.65 9.72 0 9.72C-4.65 9.72 -7.5 6.03 -7.5 0C-7.5 -6.03 -4.65 -9.72 0 -9.72C4.65 -9.72 7.5 -6.03 7.5 0Z"/><path d="M577.8 359.05h2.6v2.2h-2.6zM577.8 388.15h2.6v2.2h-2.6z" fill="#6a92c4" stroke="none" opacity="0.45"/><path transform="translate(579.1 374.7) scale(1 1.3)" d="M7.5 0C7.5 6.03 4.65 9.72 0 9.72C-4.65 9.72 -7.5 6.03 -7.5 0C-7.5 -6.03 -4.65 -9.72 0 -9.72C4.65 -9.72 7.5 -6.03 7.5 0Z"/><path d="M529.1 441.35h2.6v2.2h-2.6zM529.1 470.45h2.6v2.2h-2.6z" fill="#6a92c4" stroke="none" opacity="0.45"/><path transform="translate(530.4 457) scale(1 1.3)" d="M7.5 0C7.5 6.03 4.65 9.72 0 9.72C-4.65 9.72 -7.5 6.03 -7.5 0C-7.5 -6.03 -4.65 -9.72 0 -9.72C4.65 -9.72 7.5 -6.03 7.5 0Z"/><path d="M390.9 492.25h2.6v2.2h-2.6zM390.9 521.35h2.6v2.2h-2.6z" fill="#6a92c4" stroke="none" opacity="0.45"/><path transform="translate(392.2 507.9) scale(1 1.3)" d="M7.5 0C7.5 6.03 4.65 9.72 0 9.72C-4.65 9.72 -7.5 6.03 -7.5 0C-7.5 -6.03 -4.65 -9.72 0 -9.72C4.65 -9.72 7.5 -6.03 7.5 0Z"/><path d="M439.5 492.15h2.6v2.2h-2.6zM439.5 521.25h2.6v2.2h-2.6z" fill="#6a92c4" stroke="none" opacity="0.45"/><path transform="translate(440.8 507.8) scale(1 1.3)" d="M7.5 0C7.5 6.03 4.65 9.72 0 9.72C-4.65 9.72 -7.5 6.03 -7.5 0C-7.5 -6.03 -4.65 -9.72 0 -9.72C4.65 -9.72 7.5 -6.03 7.5 0Z"/><path d="M476.9 501.15h2.6v2.2h-2.6zM476.9 530.25h2.6v2.2h-2.6z" fill="#6a92c4" stroke="none" opacity="0.45"/><path transform="translate(478.2 516.8) scale(1 1.3)" d="M7.5 0C7.5 6.03 4.65 9.72 0 9.72C-4.65 9.72 -7.5 6.03 -7.5 0C-7.5 -6.03 -4.65 -9.72 0 -9.72C4.65 -9.72 7.5 -6.03 7.5 0Z"/><path d="M471.1 499.35h2.6v2.2h-2.6zM471.1 528.45h2.6v2.2h-2.6z" fill="#6a92c4" stroke="none" opacity="0.45"/><path transform="translate(472.4 515) scale(1 1.3)" d="M7.5 0C7.5 6.03 4.65 9.72 0 9.72C-4.65 9.72 -7.5 6.03 -7.5 0C-7.5 -6.03 -4.65 -9.72 0 -9.72C4.65 -9.72 7.5 -6.03 7.5 0Z"/><path d="M505.3 515.45h2.6v2.2h-2.6zM505.3 544.55h2.6v2.2h-2.6z" fill="#6a92c4" stroke="none" opacity="0.45"/><path transform="translate(506.6 531.1) scale(1 1.3)" d="M7.5 0C7.5 6.03 4.65 9.72 0 9.72C-4.65 9.72 -7.5 6.03 -7.5 0C-7.5 -6.03 -4.65 -9.72 0 -9.72C4.65 -9.72 7.5 -6.03 7.5 0Z"/><path d="M558.1 531.35h2.6v2.2h-2.6zM558.1 560.45h2.6v2.2h-2.6z" fill="#6a92c4" stroke="none" opacity="0.45"/><path transform="translate(559.4 547) scale(1 1.3)" d="M7.5 0C7.5 6.03 4.65 9.72 0 9.72C-4.65 9.72 -7.5 6.03 -7.5 0C-7.5 -6.03 -4.65 -9.72 0 -9.72C4.65 -9.72 7.5 -6.03 7.5 0Z"/><path d="M313 510.35h2.6v2.2h-2.6zM313 539.45h2.6v2.2h-2.6z" fill="#6a92c4" stroke="none" opacity="0.45"/><path transform="translate(314.3 526) scale(1 1.3)" d="M7.5 0C7.5 6.03 4.65 9.72 0 9.72C-4.65 9.72 -7.5 6.03 -7.5 0C-7.5 -6.03 -4.65 -9.72 0 -9.72C4.65 -9.72 7.5 -6.03 7.5 0Z"/><path d="M332.9 528.55h2.6v2.2h-2.6zM332.9 557.65h2.6v2.2h-2.6z" fill="#6a92c4" stroke="none" opacity="0.45"/><path transform="translate(334.2 544.2) scale(1 1.3)" d="M7.5 0C7.5 6.03 4.65 9.72 0 9.72C-4.65 9.72 -7.5 6.03 -7.5 0C-7.5 -6.03 -4.65 -9.72 0 -9.72C4.65 -9.72 7.5 -6.03 7.5 0Z"/><path d="M282.7 543.85h2.6v2.2h-2.6zM282.7 572.95h2.6v2.2h-2.6z" fill="#6a92c4" stroke="none" opacity="0.45"/><path transform="translate(284 559.5) scale(1 1.3)" d="M7.5 0C7.5 6.03 4.65 9.72 0 9.72C-4.65 9.72 -7.5 6.03 -7.5 0C-7.5 -6.03 -4.65 -9.72 0 -9.72C4.65 -9.72 7.5 -6.03 7.5 0Z"/><path d="M369.7 568.35h2.6v2.2h-2.6zM369.7 597.45h2.6v2.2h-2.6z" fill="#6a92c4" stroke="none" opacity="0.45"/><path transform="translate(371 584) scale(1 1.3)" d="M7.5 0C7.5 6.03 4.65 9.72 0 9.72C-4.65 9.72 -7.5 6.03 -7.5 0C-7.5 -6.03 -4.65 -9.72 0 -9.72C4.65 -9.72 7.5 -6.03 7.5 0Z"/><path d="M600.2 556.85h2.6v2.2h-2.6zM600.2 585.95h2.6v2.2h-2.6z" fill="#6a92c4" stroke="none" opacity="0.45"/><path transform="translate(601.5 572.5) scale(1 1.3)" d="M7.5 0C7.5 6.03 4.65 9.72 0 9.72C-4.65 9.72 -7.5 6.03 -7.5 0C-7.5 -6.03 -4.65 -9.72 0 -9.72C4.65 -9.72 7.5 -6.03 7.5 0Z"/><path d="M569.9 607.85h2.6v2.2h-2.6zM569.9 636.95h2.6v2.2h-2.6z" fill="#6a92c4" stroke="none" opacity="0.45"/><path transform="translate(571.2 623.5) scale(1 1.3)" d="M7.5 0C7.5 6.03 4.65 9.72 0 9.72C-4.65 9.72 -7.5 6.03 -7.5 0C-7.5 -6.03 -4.65 -9.72 0 -9.72C4.65 -9.72 7.5 -6.03 7.5 0Z"/><path d="M621.3 598.15h2.6v2.2h-2.6zM621.3 627.25h2.6v2.2h-2.6z" fill="#6a92c4" stroke="none" opacity="0.45"/><path transform="translate(622.6 613.8) scale(1 1.3)" d="M7.5 0C7.5 6.03 4.65 9.72 0 9.72C-4.65 9.72 -7.5 6.03 -7.5 0C-7.5 -6.03 -4.65 -9.72 0 -9.72C4.65 -9.72 7.5 -6.03 7.5 0Z"/><path d="M671.6 621.55h2.6v2.2h-2.6zM671.6 650.65h2.6v2.2h-2.6z" fill="#6a92c4" stroke="none" opacity="0.45"/><path transform="translate(672.9 637.2) scale(1 1.3)" d="M7.5 0C7.5 6.03 4.65 9.72 0 9.72C-4.65 9.72 -7.5 6.03 -7.5 0C-7.5 -6.03 -4.65 -9.72 0 -9.72C4.65 -9.72 7.5 -6.03 7.5 0Z"/><path d="M808.6 536.15h2.6v2.2h-2.6zM808.6 565.25h2.6v2.2h-2.6z" fill="#6a92c4" stroke="none" opacity="0.45"/><path transform="translate(809.9 551.8) scale(1 1.3)" d="M7.5 0C7.5 6.03 4.65 9.72 0 9.72C-4.65 9.72 -7.5 6.03 -7.5 0C-7.5 -6.03 -4.65 -9.72 0 -9.72C4.65 -9.72 7.5 -6.03 7.5 0Z"/><path d="M784.5 667.65h2.6v2.2h-2.6zM784.5 696.75h2.6v2.2h-2.6z" fill="#6a92c4" stroke="none" opacity="0.45"/><path transform="translate(785.8 683.3) scale(1 1.3)" d="M7.5 0C7.5 6.03 4.65 9.72 0 9.72C-4.65 9.72 -7.5 6.03 -7.5 0C-7.5 -6.03 -4.65 -9.72 0 -9.72C4.65 -9.72 7.5 -6.03 7.5 0Z"/></g>
<rect x="1084.4" y="15.2" width="834.4" height="903.5" fill="#f4f4f4"/>
<ellipse cx="1501.1" cy="469.2" rx="343.3" ry="321.4" fill="#ffffff"/>
<line x1="1222.3" y1="15.2" x2="1222.3" y2="921.8" stroke="#d6d6d6" stroke-width="1.2"/>
<line x1="1362.1" y1="15.2" x2="1362.1" y2="921.8" stroke="#d6d6d6" stroke-width="1.2"/>
<line x1="1640" y1="15.2" x2="1640" y2="921.8" stroke="#d6d6d6" stroke-width="1.2"/>
<line x1="1779.4" y1="15.2" x2="1779.4" y2="921.8" stroke="#d6d6d6" stroke-width="1.2"/>
<line x1="1082.8" y1="166.25" x2="1918.8" y2="166.25" stroke="#d6d6d6" stroke-width="1.2"/>
<line x1="1082.8" y1="318.3" x2="1918.8" y2="318.3" stroke="#d6d6d6" stroke-width="1.2"/>
<line x1="1082.8" y1="620.1" x2="1918.8" y2="620.1" stroke="#d6d6d6" stroke-width="1.2"/>
<line x1="1082.8" y1="772.1" x2="1918.8" y2="772.1" stroke="#d6d6d6" stroke-width="1.2"/>
<ellipse cx="1501.1" cy="469.2" rx="343.3" ry="321.4" fill="none" stroke="#9a9a9a" stroke-width="1.3"/>
<line x1="1500.5" y1="15.2" x2="1500.5" y2="921.8" stroke="#666" stroke-width="1.7"/>
<line x1="1082.8" y1="468.05" x2="1918.8" y2="468.05" stroke="#666" stroke-width="1.7"/>
<line x1="1082.8" y1="23.2" x2="1082.8" y2="934.8" stroke="#585858" stroke-width="1.7"/>
<line x1="1076.8" y1="921.8" x2="1910.8" y2="921.8" stroke="#585858" stroke-width="2"/>
<polygon points="1078.2,47.4 1087.4,47.4 1082.8,15.5" fill="#8a8a8a"/>
<polygon points="1900.6,913.8 1900.6,929.8 1918.5,921.8" fill="#8a8a8a"/>
<path d="M1117.67 921.8v8M1152.55 921.8v8M1187.42 921.8v8M1222.3 921.8v12.6M1257.25 921.8v8M1292.2 921.8v8M1327.15 921.8v8M1362.1 921.8v12.6M1396.7 921.8v8M1431.3 921.8v8M1465.9 921.8v8M1500.5 921.8v12.6M1535.38 921.8v8M1570.25 921.8v8M1605.12 921.8v8M1640 921.8v12.6M1674.85 921.8v8M1709.7 921.8v8M1744.55 921.8v8M1779.4 921.8v12.6M1814.25 921.8v8M1849.1 921.8v8M1883.95 921.8v8M1082.8 884.38h-3.3M1082.8 846.95h-3.3M1082.8 809.52h-3.3M1082.8 772.1h-6M1082.8 734.1h-3.3M1082.8 696.1h-3.3M1082.8 658.1h-3.3M1082.8 620.1h-6M1082.8 582.09h-3.3M1082.8 544.08h-3.3M1082.8 506.06h-3.3M1082.8 468.05h-6M1082.8 430.61h-3.3M1082.8 393.18h-3.3M1082.8 355.74h-3.3M1082.8 318.3h-6M1082.8 280.29h-3.3M1082.8 242.28h-3.3M1082.8 204.26h-3.3M1082.8 166.25h-6M1082.8 128.24h-3.3M1082.8 90.22h-3.3M1082.8 52.21h-3.3" stroke="#585858" stroke-width="1.4" fill="none"/>
<text class="t" text-anchor="middle" transform="translate(1082.8 966.9) scale(1 1.89)">-60000</text>
<text class="t" text-anchor="middle" transform="translate(1222.3 966.9) scale(1 1.89)">-40000</text>
<text class="t" text-anchor="middle" transform="translate(1362.1 966.9) scale(1 1.89)">-20000</text>
<text class="t" text-anchor="middle" transform="translate(1500.5 966.9) scale(1 1.89)">0</text>
<text class="t" text-anchor="middle" transform="translate(1640 966.9) scale(1 1.89)">20000</text>
<text class="t" text-anchor="middle" transform="translate(1779.4 966.9) scale(1 1.89)">40000</text>
<text class="t" text-anchor="end" transform="translate(1073.8 177.25) scale(1 1.89)">40000</text>
<text class="t" text-anchor="end" transform="translate(1073.8 329.3) scale(1 1.89)">20000</text>
<text class="t" text-anchor="end" transform="translate(1073.8 479.05) scale(1 1.89)">0</text>
<text class="t" text-anchor="end" transform="translate(1073.8 631.1) scale(1 1.89)">-20000</text>
<text class="t" text-anchor="end" transform="translate(1073.8 783.1) scale(1 1.89)">-40000</text>
<text class="t" text-anchor="end" transform="translate(1073.8 932.8) scale(1 1.89)">-60000</text>
<text class="t" text-anchor="middle" transform="translate(1501 1000.3) scale(1 1.89)">t[1]</text>
<text class="t" text-anchor="middle" style="font-size:13.6px;stroke-width:0.1px" transform="translate(1025.5 469.9) rotate(-90) scale(1.92 1)">t[2]</text>
<text class="m" textLength="124.9" lengthAdjust="spacing" transform="translate(1079.4 1026.3) scale(1 1.7)">R2X[1] = 0.181</text>
<text class="m" textLength="124" lengthAdjust="spacing" transform="translate(1341.2 1026.3) scale(1 1.7)">R2X[2] = 0.135</text>
<text class="m" textLength="255" lengthAdjust="spacing" transform="translate(1604.4 1026.3) scale(1 1.7)">Ellipse: Hotelling's T2 (95%)</text>
<text class="big" transform="translate(1117.3 57.3) scale(1 1.04)">(B)</text>
<rect x="1932" y="1.2" width="19.6" height="34.6" fill="#99cc00"/>
<text class="t" transform="translate(1954.3 29) scale(1 1.78)">pre</text>
<rect x="1932" y="42.8" width="19.6" height="34.6" fill="#3366ff"/>
<text class="t" transform="translate(1954.3 70.6) scale(1 1.78)">post</text>
<g fill="#99cc00" stroke="#6a9600" stroke-width="1.4"><path d="M1704.97 27.05h2.6v2.2h-2.6zM1704.97 56.15h2.6v2.2h-2.6z" fill="#6a9600" stroke="none" opacity="0.45"/><path transform="translate(1706.27 42.7) scale(1 1.3)" d="M7.5 0C7.5 6.03 4.65 9.72 0 9.72C-4.65 9.72 -7.5 6.03 -7.5 0C-7.5 -6.03 -4.65 -9.72 0 -9.72C4.65 -9.72 7.5 -6.03 7.5 0Z"/><path d="M1496.45 114.75h2.6v2.2h-2.6zM1496.45 143.85h2.6v2.2h-2.6z" fill="#6a9600" stroke="none" opacity="0.45"/><path transform="translate(1497.75 130.4) scale(1 1.3)" d="M7.5 0C7.5 6.03 4.65 9.72 0 9.72C-4.65 9.72 -7.5 6.03 -7.5 0C-7.5 -6.03 -4.65 -9.72 0 -9.72C4.65 -9.72 7.5 -6.03 7.5 0Z"/><path d="M1591.38 183.85h2.6v2.2h-2.6zM1591.38 212.95h2.6v2.2h-2.6z" fill="#6a9600" stroke="none" opacity="0.45"/><path transform="translate(1592.68 199.5) scale(1 1.3)" d="M7.5 0C7.5 6.03 4.65 9.72 0 9.72C-4.65 9.72 -7.5 6.03 -7.5 0C-7.5 -6.03 -4.65 -9.72 0 -9.72C4.65 -9.72 7.5 -6.03 7.5 0Z"/><path d="M1396.46 218.65h2.6v2.2h-2.6zM1396.46 247.75h2.6v2.2h-2.6z" fill="#6a9600" stroke="none" opacity="0.45"/><path transform="translate(1397.76 234.3) scale(1 1.3)" d="M7.5 0C7.5 6.03 4.65 9.72 0 9.72C-4.65 9.72 -7.5 6.03 -7.5 0C-7.5 -6.03 -4.65 -9.72 0 -9.72C4.65 -9.72 7.5 -6.03 7.5 0Z"/><path d="M1763.99 211.55h2.6v2.2h-2.6zM1763.99 240.65h2.6v2.2h-2.6z" fill="#6a9600" stroke="none" opacity="0.45"/><path transform="translate(1765.29 227.2) scale(1 1.3)" d="M7.5 0C7.5 6.03 4.65 9.72 0 9.72C-4.65 9.72 -7.5 6.03 -7.5 0C-7.5 -6.03 -4.65 -9.72 0 -9.72C4.65 -9.72 7.5 -6.03 7.5 0Z"/><path d="M1366.84 316.25h2.6v2.2h-2.6zM1366.84 345.35h2.6v2.2h-2.6z" fill="#6a9600" stroke="none" opacity="0.45"/><path transform="translate(1368.14 331.9) scale(1 1.3)" d="M7.5 0C7.5 6.03 4.65 9.72 0 9.72C-4.65 9.72 -7.5 6.03 -7.5 0C-7.5 -6.03 -4.65 -9.72 0 -9.72C4.65 -9.72 7.5 -6.03 7.5 0Z"/><path d="M1321.61 365.45h2.6v2.2h-2.6zM1321.61 394.55h2.6v2.2h-2.6z" fill="#6a9600" stroke="none" opacity="0.45"/><path transform="translate(1322.91 381.1) scale(1 1.3)" d="M7.5 0C7.5 6.03 4.65 9.72 0 9.72C-4.65 9.72 -7.5 6.03 -7.5 0C-7.5 -6.03 -4.65 -9.72 0 -9.72C4.65 -9.72 7.5 -6.03 7.5 0Z"/><path d="M1276.07 386.55h2.6v2.2h-2.6zM1276.07 415.65h2.6v2.2h-2.6z" fill="#6a9600" stroke="none" opacity="0.45"/><path transform="translate(1277.37 402.2) scale(1 1.3)" d="M7.5 0C7.5 6.03 4.65 9.72 0 9.72C-4.65 9.72 -7.5 6.03 -7.5 0C-7.5 -6.03 -4.65 -9.72 0 -9.72C4.65 -9.72 7.5 -6.03 7.5 0Z"/><path d="M1369.88 374.95h2.6v2.2h-2.6zM1369.88 404.05h2.6v2.2h-2.6z" fill="#6a9600" stroke="none" opacity="0.45"/><path transform="translate(1371.18 390.6) scale(1 1.3)" d="M7.5 0C7.5 6.03 4.65 9.72 0 9.72C-4.65 9.72 -7.5 6.03 -7.5 0C-7.5 -6.03 -4.65 -9.72 0 -9.72C4.65 -9.72 7.5 -6.03 7.5 0Z"/><path d="M1475.05 372.45h2.6v2.2h-2.6zM1475.05 401.55h2.6v2.2h-2.6z" fill="#6a9600" stroke="none" opacity="0.45"/><path transform="translate(1476.35 388.1) scale(1 1.3)" d="M7.5 0C7.5 6.03 4.65 9.72 0 9.72C-4.65 9.72 -7.5 6.03 -7.5 0C-7.5 -6.03 -4.65 -9.72 0 -9.72C4.65 -9.72 7.5 -6.03 7.5 0Z"/><path d="M1477.49 427.55h2.6v2.2h-2.6zM1477.49 456.65h2.6v2.2h-2.6z" fill="#6a9600" stroke="none" opacity="0.45"/><path transform="translate(1478.79 443.2) scale(1 1.3)" d="M7.5 0C7.5 6.03 4.65 9.72 0 9.72C-4.65 9.72 -7.5 6.03 -7.5 0C-7.5 -6.03 -4.65 -9.72 0 -9.72C4.65 -9.72 7.5 -6.03 7.5 0Z"/><path d="M1466.64 442.25h2.6v2.2h-2.6zM1466.64 471.35h2.6v2.2h-2.6z" fill="#6a9600" stroke="none" opacity="0.45"/><path transform="translate(1467.94 457.9) scale(1 1.3)" d="M7.5 0C7.5 6.03 4.65 9.72 0 9.72C-4.65 9.72 -7.5 6.03 -7.5 0C-7.5 -6.03 -4.65 -9.72 0 -9.72C4.65 -9.72 7.5 -6.03 7.5 0Z"/><path d="M1396.46 464.25h2.6v2.2h-2.6zM1396.46 493.35h2.6v2.2h-2.6z" fill="#6a9600" stroke="none" opacity="0.45"/><path transform="translate(1397.76 479.9) scale(1 1.3)" d="M7.5 0C7.5 6.03 4.65 9.72 0 9.72C-4.65 9.72 -7.5 6.03 -7.5 0C-7.5 -6.03 -4.65 -9.72 0 -9.72C4.65 -9.72 7.5 -6.03 7.5 0Z"/><path d="M1444.53 477.05h2.6v2.2h-2.6zM1444.53 506.15h2.6v2.2h-2.6z" fill="#6a9600" stroke="none" opacity="0.45"/><path transform="translate(1445.83 492.7) scale(1 1.3)" d="M7.5 0C7.5 6.03 4.65 9.72 0 9.72C-4.65 9.72 -7.5 6.03 -7.5 0C-7.5 -6.03 -4.65 -9.72 0 -9.72C4.65 -9.72 7.5 -6.03 7.5 0Z"/><path d="M1448.28 461.55h2.6v2.2h-2.6zM1448.28 490.65h2.6v2.2h-2.6z" fill="#6a9600" stroke="none" opacity="0.45"/><path transform="translate(1449.58 477.2) scale(1 1.3)" d="M7.5 0C7.5 6.03 4.65 9.72 0 9.72C-4.65 9.72 -7.5 6.03 -7.5 0C-7.5 -6.03 -4.65 -9.72 0 -9.72C4.65 -9.72 7.5 -6.03 7.5 0Z"/><path d="M1514.1 468.95h2.6v2.2h-2.6zM1514.1 498.05h2.6v2.2h-2.6z" fill="#6a9600" stroke="none" opacity="0.45"/><path transform="translate(1515.4 484.6) scale(1 1.3)" d="M7.5 0C7.5 6.03 4.65 9.72 0 9.72C-4.65 9.72 -7.5 6.03 -7.5 0C-7.5 -6.03 -4.65 -9.72 0 -9.72C4.65 -9.72 7.5 -6.03 7.5 0Z"/><path d="M1630.12 404.35h2.6v2.2h-2.6zM1630.12 433.45h2.6v2.2h-2.6z" fill="#6a9600" stroke="none" opacity="0.45"/><path transform="translate(1631.42 420) scale(1 1.3)" d="M7.5 0C7.5 6.03 4.65 9.72 0 9.72C-4.65 9.72 -7.5 6.03 -7.5 0C-7.5 -6.03 -4.65 -9.72 0 -9.72C4.65 -9.72 7.5 -6.03 7.5 0Z"/><path d="M1634.18 432.65h2.6v2.2h-2.6zM1634.18 461.75h2.6v2.2h-2.6z" fill="#6a9600" stroke="none" opacity="0.45"/><path transform="translate(1635.48 448.3) scale(1 1.3)" d="M7.5 0C7.5 6.03 4.65 9.72 0 9.72C-4.65 9.72 -7.5 6.03 -7.5 0C-7.5 -6.03 -4.65 -9.72 0 -9.72C4.65 -9.72 7.5 -6.03 7.5 0Z"/><path d="M1778.5 510.35h2.6v2.2h-2.6zM1778.5 539.45h2.6v2.2h-2.6z" fill="#6a9600" stroke="none" opacity="0.45"/><path transform="translate(1779.8 526) scale(1 1.3)" d="M7.5 0C7.5 6.03 4.65 9.72 0 9.72C-4.65 9.72 -7.5 6.03 -7.5 0C-7.5 -6.03 -4.65 -9.72 0 -9.72C4.65 -9.72 7.5 -6.03 7.5 0Z"/><path d="M1484.59 551.85h2.6v2.2h-2.6zM1484.59 580.95h2.6v2.2h-2.6z" fill="#6a9600" stroke="none" opacity="0.45"/><path transform="translate(1485.89 567.5) scale(1 1.3)" d="M7.5 0C7.5 6.03 4.65 9.72 0 9.72C-4.65 9.72 -7.5 6.03 -7.5 0C-7.5 -6.03 -4.65 -9.72 0 -9.72C4.65 -9.72 7.5 -6.03 7.5 0Z"/><path d="M1299.4 551.85h2.6v2.2h-2.6zM1299.4 580.95h2.6v2.2h-2.6z" fill="#6a9600" stroke="none" opacity="0.45"/><path transform="translate(1300.7 567.5) scale(1 1.3)" d="M7.5 0C7.5 6.03 4.65 9.72 0 9.72C-4.65 9.72 -7.5 6.03 -7.5 0C-7.5 -6.03 -4.65 -9.72 0 -9.72C4.65 -9.72 7.5 -6.03 7.5 0Z"/><path d="M1232.16 566.25h2.6v2.2h-2.6zM1232.16 595.35h2.6v2.2h-2.6z" fill="#6a9600" stroke="none" opacity="0.45"/><path transform="translate(1233.46 581.9) scale(1 1.3)" d="M7.5 0C7.5 6.03 4.65 9.72 0 9.72C-4.65 9.72 -7.5 6.03 -7.5 0C-7.5 -6.03 -4.65 -9.72 0 -9.72C4.65 -9.72 7.5 -6.03 7.5 0Z"/><path d="M1484.18 604.95h2.6v2.2h-2.6zM1484.18 634.05h2.6v2.2h-2.6z" fill="#6a9600" stroke="none" opacity="0.45"/><path transform="translate(1485.48 620.6) scale(1 1.3)" d="M7.5 0C7.5 6.03 4.65 9.72 0 9.72C-4.65 9.72 -7.5 6.03 -7.5 0C-7.5 -6.03 -4.65 -9.72 0 -9.72C4.65 -9.72 7.5 -6.03 7.5 0Z"/><path d="M1421.71 644.45h2.6v2.2h-2.6zM1421.71 673.55h2.6v2.2h-2.6z" fill="#6a9600" stroke="none" opacity="0.45"/><path transform="translate(1423.01 660.1) scale(1 1.3)" d="M7.5 0C7.5 6.03 4.65 9.72 0 9.72C-4.65 9.72 -7.5 6.03 -7.5 0C-7.5 -6.03 -4.65 -9.72 0 -9.72C4.65 -9.72 7.5 -6.03 7.5 0Z"/><path d="M1457.71 637.55h2.6v2.2h-2.6zM1457.71 666.65h2.6v2.2h-2.6z" fill="#6a9600" stroke="none" opacity="0.45"/><path transform="translate(1459.01 653.2) scale(1 1.3)" d="M7.5 0C7.5 6.03 4.65 9.72 0 9.72C-4.65 9.72 -7.5 6.03 -7.5 0C-7.5 -6.03 -4.65 -9.72 0 -9.72C4.65 -9.72 7.5 -6.03 7.5 0Z"/><path d="M1485.8 693.05h2.6v2.2h-2.6zM1485.8 722.15h2.6v2.2h-2.6z" fill="#6a9600" stroke="none" opacity="0.45"/><path transform="translate(1487.1 708.7) scale(1 1.3)" d="M7.5 0C7.5 6.03 4.65 9.72 0 9.72C-4.65 9.72 -7.5 6.03 -7.5 0C-7.5 -6.03 -4.65 -9.72 0 -9.72C4.65 -9.72 7.5 -6.03 7.5 0Z"/></g>
<g fill="#3366ff" stroke="#2446c0" stroke-width="1.4"><path d="M1610.24 274.05h2.6v2.2h-2.6zM1610.24 303.15h2.6v2.2h-2.6z" fill="#2446c0" stroke="none" opacity="0.45"/><path transform="translate(1611.54 289.7) scale(1 1.3)" d="M7.5 0C7.5 6.03 4.65 9.72 0 9.72C-4.65 9.72 -7.5 6.03 -7.5 0C-7.5 -6.03 -4.65 -9.72 0 -9.72C4.65 -9.72 7.5 -6.03 7.5 0Z"/><path d="M1498.08 298.35h2.6v2.2h-2.6zM1498.08 327.45h2.6v2.2h-2.6z" fill="#2446c0" stroke="none" opacity="0.45"/><path transform="translate(1499.38 314) scale(1 1.3)" d="M7.5 0C7.5 6.03 4.65 9.72 0 9.72C-4.65 9.72 -7.5 6.03 -7.5 0C-7.5 -6.03 -4.65 -9.72 0 -9.72C4.65 -9.72 7.5 -6.03 7.5 0Z"/><path d="M1504.87 294.35h2.6v2.2h-2.6zM1504.87 323.45h2.6v2.2h-2.6z" fill="#2446c0" stroke="none" opacity="0.45"/><path transform="translate(1506.17 310) scale(1 1.3)" d="M7.5 0C7.5 6.03 4.65 9.72 0 9.72C-4.65 9.72 -7.5 6.03 -7.5 0C-7.5 -6.03 -4.65 -9.72 0 -9.72C4.65 -9.72 7.5 -6.03 7.5 0Z"/><path d="M1571.5 319.75h2.6v2.2h-2.6zM1571.5 348.85h2.6v2.2h-2.6z" fill="#2446c0" stroke="none" opacity="0.45"/><path transform="translate(1572.8 335.4) scale(1 1.3)" d="M7.5 0C7.5 6.03 4.65 9.72 0 9.72C-4.65 9.72 -7.5 6.03 -7.5 0C-7.5 -6.03 -4.65 -9.72 0 -9.72C4.65 -9.72 7.5 -6.03 7.5 0Z"/><path d="M1371 326.85h2.6v2.2h-2.6zM1371 355.95h2.6v2.2h-2.6z" fill="#2446c0" stroke="none" opacity="0.45"/><path transform="translate(1372.3 342.5) scale(1 1.3)" d="M7.5 0C7.5 6.03 4.65 9.72 0 9.72C-4.65 9.72 -7.5 6.03 -7.5 0C-7.5 -6.03 -4.65 -9.72 0 -9.72C4.65 -9.72 7.5 -6.03 7.5 0Z"/><path d="M1374.55 415.35h2.6v2.2h-2.6zM1374.55 444.45h2.6v2.2h-2.6z" fill="#2446c0" stroke="none" opacity="0.45"/><path transform="translate(1375.85 431) scale(1 1.3)" d="M7.5 0C7.5 6.03 4.65 9.72 0 9.72C-4.65 9.72 -7.5 6.03 -7.5 0C-7.5 -6.03 -4.65 -9.72 0 -9.72C4.65 -9.72 7.5 -6.03 7.5 0Z"/><path d="M1468.56 429.85h2.6v2.2h-2.6zM1468.56 458.95h2.6v2.2h-2.6z" fill="#2446c0" stroke="none" opacity="0.45"/><path transform="translate(1469.86 445.5) scale(1 1.3)" d="M7.5 0C7.5 6.03 4.65 9.72 0 9.72C-4.65 9.72 -7.5 6.03 -7.5 0C-7.5 -6.03 -4.65 -9.72 0 -9.72C4.65 -9.72 7.5 -6.03 7.5 0Z"/><path d="M1472.01 459.65h2.6v2.2h-2.6zM1472.01 488.75h2.6v2.2h-2.6z" fill="#2446c0" stroke="none" opacity="0.45"/><path transform="translate(1473.31 475.3) scale(1 1.3)" d="M7.5 0C7.5 6.03 4.65 9.72 0 9.72C-4.65 9.72 -7.5 6.03 -7.5 0C-7.5 -6.03 -4.65 -9.72 0 -9.72C4.65 -9.72 7.5 -6.03 7.5 0Z"/><path d="M1646.35 397.65h2.6v2.2h-2.6zM1646.35 426.75h2.6v2.2h-2.6z" fill="#2446c0" stroke="none" opacity="0.45"/><path transform="translate(1647.65 413.3) scale(1 1.3)" d="M7.5 0C7.5 6.03 4.65 9.72 0 9.72C-4.65 9.72 -7.5 6.03 -7.5 0C-7.5 -6.03 -4.65 -9.72 0 -9.72C4.65 -9.72 7.5 -6.03 7.5 0Z"/><path d="M1745.23 458.15h2.6v2.2h-2.6zM1745.23 487.25h2.6v2.2h-2.6z" fill="#2446c0" stroke="none" opacity="0.45"/><path transform="translate(1746.53 473.8) scale(1 1.3)" d="M7.5 0C7.5 6.03 4.65 9.72 0 9.72C-4.65 9.72 -7.5 6.03 -7.5 0C-7.5 -6.03 -4.65 -9.72 0 -9.72C4.65 -9.72 7.5 -6.03 7.5 0Z"/><path d="M1442.09 510.65h2.6v2.2h-2.6zM1442.09 539.75h2.6v2.2h-2.6z" fill="#2446c0" stroke="none" opacity="0.45"/><path transform="translate(1443.39 526.3) scale(1 1.3)" d="M7.5 0C7.5 6.03 4.65 9.72 0 9.72C-4.65 9.72 -7.5 6.03 -7.5 0C-7.5 -6.03 -4.65 -9.72 0 -9.72C4.65 -9.72 7.5 -6.03 7.5 0Z"/><path d="M1452.44 504.95h2.6v2.2h-2.6zM1452.44 534.05h2.6v2.2h-2.6z" fill="#2446c0" stroke="none" opacity="0.45"/><path transform="translate(1453.74 520.6) scale(1 1.3)" d="M7.5 0C7.5 6.03 4.65 9.72 0 9.72C-4.65 9.72 -7.5 6.03 -7.5 0C-7.5 -6.03 -4.65 -9.72 0 -9.72C4.65 -9.72 7.5 -6.03 7.5 0Z"/><path d="M1511.36 501.15h2.6v2.2h-2.6zM1511.36 530.25h2.6v2.2h-2.6z" fill="#2446c0" stroke="none" opacity="0.45"/><path transform="translate(1512.66 516.8) scale(1 1.3)" d="M7.5 0C7.5 6.03 4.65 9.72 0 9.72C-4.65 9.72 -7.5 6.03 -7.5 0C-7.5 -6.03 -4.65 -9.72 0 -9.72C4.65 -9.72 7.5 -6.03 7.5 0Z"/><path d="M1517.45 508.65h2.6v2.2h-2.6zM1517.45 537.75h2.6v2.2h-2.6z" fill="#2446c0" stroke="none" opacity="0.45"/><path transform="translate(1518.75 524.3) scale(1 1.3)" d="M7.5 0C7.5 6.03 4.65 9.72 0 9.72C-4.65 9.72 -7.5 6.03 -7.5 0C-7.5 -6.03 -4.65 -9.72 0 -9.72C4.65 -9.72 7.5 -6.03 7.5 0Z"/><path d="M1566.23 505.65h2.6v2.2h-2.6zM1566.23 534.75h2.6v2.2h-2.6z" fill="#2446c0" stroke="none" opacity="0.45"/><path transform="translate(1567.53 521.3) scale(1 1.3)" d="M7.5 0C7.5 6.03 4.65 9.72 0 9.72C-4.65 9.72 -7.5 6.03 -7.5 0C-7.5 -6.03 -4.65 -9.72 0 -9.72C4.65 -9.72 7.5 -6.03 7.5 0Z"/><path d="M1670.39 499.15h2.6v2.2h-2.6zM1670.39 528.25h2.6v2.2h-2.6z" fill="#2446c0" stroke="none" opacity="0.45"/><path transform="translate(1671.69 514.8) scale(1 1.3)" d="M7.5 0C7.5 6.03 4.65 9.72 0 9.72C-4.65 9.72 -7.5 6.03 -7.5 0C-7.5 -6.03 -4.65 -9.72 0 -9.72C4.65 -9.72 7.5 -6.03 7.5 0Z"/><path d="M1710.45 522.25h2.6v2.2h-2.6zM1710.45 551.35h2.6v2.2h-2.6z" fill="#2446c0" stroke="none" opacity="0.45"/><path transform="translate(1711.75 537.9) scale(1 1.3)" d="M7.5 0C7.5 6.03 4.65 9.72 0 9.72C-4.65 9.72 -7.5 6.03 -7.5 0C-7.5 -6.03 -4.65 -9.72 0 -9.72C4.65 -9.72 7.5 -6.03 7.5 0Z"/><path d="M1726.37 540.95h2.6v2.2h-2.6zM1726.37 570.05h2.6v2.2h-2.6z" fill="#2446c0" stroke="none" opacity="0.45"/><path transform="translate(1727.67 556.6) scale(1 1.3)" d="M7.5 0C7.5 6.03 4.65 9.72 0 9.72C-4.65 9.72 -7.5 6.03 -7.5 0C-7.5 -6.03 -4.65 -9.72 0 -9.72C4.65 -9.72 7.5 -6.03 7.5 0Z"/><path d="M1301.63 494.45h2.6v2.2h-2.6zM1301.63 523.55h2.6v2.2h-2.6z" fill="#2446c0" stroke="none" opacity="0.45"/><path transform="translate(1302.93 510.1) scale(1 1.3)" d="M7.5 0C7.5 6.03 4.65 9.72 0 9.72C-4.65 9.72 -7.5 6.03 -7.5 0C-7.5 -6.03 -4.65 -9.72 0 -9.72C4.65 -9.72 7.5 -6.03 7.5 0Z"/><path d="M1284.49 512.65h2.6v2.2h-2.6zM1284.49 541.75h2.6v2.2h-2.6z" fill="#2446c0" stroke="none" opacity="0.45"/><path transform="translate(1285.79 528.3) scale(1 1.3)" d="M7.5 0C7.5 6.03 4.65 9.72 0 9.72C-4.65 9.72 -7.5 6.03 -7.5 0C-7.5 -6.03 -4.65 -9.72 0 -9.72C4.65 -9.72 7.5 -6.03 7.5 0Z"/><path d="M1466.03 548.35h2.6v2.2h-2.6zM1466.03 577.45h2.6v2.2h-2.6z" fill="#2446c0" stroke="none" opacity="0.45"/><path transform="translate(1467.33 564) scale(1 1.3)" d="M7.5 0C7.5 6.03 4.65 9.72 0 9.72C-4.65 9.72 -7.5 6.03 -7.5 0C-7.5 -6.03 -4.65 -9.72 0 -9.72C4.65 -9.72 7.5 -6.03 7.5 0Z"/><path d="M1334.89 563.85h2.6v2.2h-2.6zM1334.89 592.95h2.6v2.2h-2.6z" fill="#2446c0" stroke="none" opacity="0.45"/><path transform="translate(1336.19 579.5) scale(1 1.3)" d="M7.5 0C7.5 6.03 4.65 9.72 0 9.72C-4.65 9.72 -7.5 6.03 -7.5 0C-7.5 -6.03 -4.65 -9.72 0 -9.72C4.65 -9.72 7.5 -6.03 7.5 0Z"/><path d="M1394.93 584.75h2.6v2.2h-2.6zM1394.93 613.85h2.6v2.2h-2.6z" fill="#2446c0" stroke="none" opacity="0.45"/><path transform="translate(1396.23 600.4) scale(1 1.3)" d="M7.5 0C7.5 6.03 4.65 9.72 0 9.72C-4.65 9.72 -7.5 6.03 -7.5 0C-7.5 -6.03 -4.65 -9.72 0 -9.72C4.65 -9.72 7.5 -6.03 7.5 0Z"/><path d="M1412.38 582.45h2.6v2.2h-2.6zM1412.38 611.55h2.6v2.2h-2.6z" fill="#2446c0" stroke="none" opacity="0.45"/><path transform="translate(1413.68 598.1) scale(1 1.3)" d="M7.5 0C7.5 6.03 4.65 9.72 0 9.72C-4.65 9.72 -7.5 6.03 -7.5 0C-7.5 -6.03 -4.65 -9.72 0 -9.72C4.65 -9.72 7.5 -6.03 7.5 0Z"/><path d="M1842.8 573.15h2.6v2.2h-2.6zM1842.8 602.25h2.6v2.2h-2.6z" fill="#2446c0" stroke="none" opacity="0.45"/><path transform="translate(1844.1 588.8) scale(1 1.3)" d="M7.5 0C7.5 6.03 4.65 9.72 0 9.72C-4.65 9.72 -7.5 6.03 -7.5 0C-7.5 -6.03 -4.65 -9.72 0 -9.72C4.65 -9.72 7.5 -6.03 7.5 0Z"/><path d="M1612.98 713.55h2.6v2.2h-2.6zM1612.98 742.65h2.6v2.2h-2.6z" fill="#2446c0" stroke="none" opacity="0.45"/><path transform="translate(1614.28 729.2) scale(1 1.3)" d="M7.5 0C7.5 6.03 4.65 9.72 0 9.72C-4.65 9.72 -7.5 6.03 -7.5 0C-7.5 -6.03 -4.65 -9.72 0 -9.72C4.65 -9.72 7.5 -6.03 7.5 0Z"/><path d="M1840.06 693.05h2.6v2.2h-2.6zM1840.06 722.15h2.6v2.2h-2.6z" fill="#2446c0" stroke="none" opacity="0.45"/><path transform="translate(1841.36 708.7) scale(1 1.3)" d="M7.5 0C7.5 6.03 4.65 9.72 0 9.72C-4.65 9.72 -7.5 6.03 -7.5 0C-7.5 -6.03 -4.65 -9.72 0 -9.72C4.65 -9.72 7.5 -6.03 7.5 0Z"/></g>
<g fill="#99cc00" stroke="#6a9600" stroke-width="1.4"><path d="M1492.5 243.55h2.6v2.2h-2.6zM1492.5 272.65h2.6v2.2h-2.6z" fill="#6a9600" stroke="none" opacity="0.45"/><path transform="translate(1493.8 259.2) scale(1 1.3)" d="M7.5 0C7.5 6.03 4.65 9.72 0 9.72C-4.65 9.72 -7.5 6.03 -7.5 0C-7.5 -6.03 -4.65 -9.72 0 -9.72C4.65 -9.72 7.5 -6.03 7.5 0Z"/><path d="M1566.13 199.75h2.6v2.2h-2.6zM1566.13 228.85h2.6v2.2h-2.6z" fill="#6a9600" stroke="none" opacity="0.45"/><path transform="translate(1567.43 215.4) scale(1 1.3)" d="M7.5 0C7.5 6.03 4.65 9.72 0 9.72C-4.65 9.72 -7.5 6.03 -7.5 0C-7.5 -6.03 -4.65 -9.72 0 -9.72C4.65 -9.72 7.5 -6.03 7.5 0Z"/><path d="M1466.84 276.05h2.6v2.2h-2.6zM1466.84 305.15h2.6v2.2h-2.6z" fill="#6a9600" stroke="none" opacity="0.45"/><path transform="translate(1468.14 291.7) scale(1 1.3)" d="M7.5 0C7.5 6.03 4.65 9.72 0 9.72C-4.65 9.72 -7.5 6.03 -7.5 0C-7.5 -6.03 -4.65 -9.72 0 -9.72C4.65 -9.72 7.5 -6.03 7.5 0Z"/><path d="M1530.02 280.65h2.6v2.2h-2.6zM1530.02 309.75h2.6v2.2h-2.6z" fill="#6a9600" stroke="none" opacity="0.45"/><path transform="translate(1531.32 296.3) scale(1 1.3)" d="M7.5 0C7.5 6.03 4.65 9.72 0 9.72C-4.65 9.72 -7.5 6.03 -7.5 0C-7.5 -6.03 -4.65 -9.72 0 -9.72C4.65 -9.72 7.5 -6.03 7.5 0Z"/><path d="M1511.36 286.65h2.6v2.2h-2.6zM1511.36 315.75h2.6v2.2h-2.6z" fill="#6a9600" stroke="none" opacity="0.45"/><path transform="translate(1512.66 302.3) scale(1 1.3)" d="M7.5 0C7.5 6.03 4.65 9.72 0 9.72C-4.65 9.72 -7.5 6.03 -7.5 0C-7.5 -6.03 -4.65 -9.72 0 -9.72C4.65 -9.72 7.5 -6.03 7.5 0Z"/><path d="M1293.52 416.55h2.6v2.2h-2.6zM1293.52 445.65h2.6v2.2h-2.6z" fill="#6a9600" stroke="none" opacity="0.45"/><path transform="translate(1294.82 432.2) scale(1 1.3)" d="M7.5 0C7.5 6.03 4.65 9.72 0 9.72C-4.65 9.72 -7.5 6.03 -7.5 0C-7.5 -6.03 -4.65 -9.72 0 -9.72C4.65 -9.72 7.5 -6.03 7.5 0Z"/><path d="M1371 419.15h2.6v2.2h-2.6zM1371 448.25h2.6v2.2h-2.6z" fill="#6a9600" stroke="none" opacity="0.45"/><path transform="translate(1372.3 434.8) scale(1 1.3)" d="M7.5 0C7.5 6.03 4.65 9.72 0 9.72C-4.65 9.72 -7.5 6.03 -7.5 0C-7.5 -6.03 -4.65 -9.72 0 -9.72C4.65 -9.72 7.5 -6.03 7.5 0Z"/><path d="M1413.59 413.85h2.6v2.2h-2.6zM1413.59 442.95h2.6v2.2h-2.6z" fill="#6a9600" stroke="none" opacity="0.45"/><path transform="translate(1414.89 429.5) scale(1 1.3)" d="M7.5 0C7.5 6.03 4.65 9.72 0 9.72C-4.65 9.72 -7.5 6.03 -7.5 0C-7.5 -6.03 -4.65 -9.72 0 -9.72C4.65 -9.72 7.5 -6.03 7.5 0Z"/><path d="M1449.9 400.35h2.6v2.2h-2.6zM1449.9 429.45h2.6v2.2h-2.6z" fill="#6a9600" stroke="none" opacity="0.45"/><path transform="translate(1451.2 416) scale(1 1.3)" d="M7.5 0C7.5 6.03 4.65 9.72 0 9.72C-4.65 9.72 -7.5 6.03 -7.5 0C-7.5 -6.03 -4.65 -9.72 0 -9.72C4.65 -9.72 7.5 -6.03 7.5 0Z"/><path d="M1487.12 384.15h2.6v2.2h-2.6zM1487.12 413.25h2.6v2.2h-2.6z" fill="#6a9600" stroke="none" opacity="0.45"/><path transform="translate(1488.42 399.8) scale(1 1.3)" d="M7.5 0C7.5 6.03 4.65 9.72 0 9.72C-4.65 9.72 -7.5 6.03 -7.5 0C-7.5 -6.03 -4.65 -9.72 0 -9.72C4.65 -9.72 7.5 -6.03 7.5 0Z"/><path d="M1510.25 453.15h2.6v2.2h-2.6zM1510.25 482.25h2.6v2.2h-2.6z" fill="#6a9600" stroke="none" opacity="0.45"/><path transform="translate(1511.55 468.8) scale(1 1.3)" d="M7.5 0C7.5 6.03 4.65 9.72 0 9.72C-4.65 9.72 -7.5 6.03 -7.5 0C-7.5 -6.03 -4.65 -9.72 0 -9.72C4.65 -9.72 7.5 -6.03 7.5 0Z"/><path d="M1507.51 433.85h2.6v2.2h-2.6zM1507.51 462.95h2.6v2.2h-2.6z" fill="#6a9600" stroke="none" opacity="0.45"/><path transform="translate(1508.81 449.5) scale(1 1.3)" d="M7.5 0C7.5 6.03 4.65 9.72 0 9.72C-4.65 9.72 -7.5 6.03 -7.5 0C-7.5 -6.03 -4.65 -9.72 0 -9.72C4.65 -9.72 7.5 -6.03 7.5 0Z"/><path d="M1496.76 467.15h2.6v2.2h-2.6zM1496.76 496.25h2.6v2.2h-2.6z" fill="#6a9600" stroke="none" opacity="0.45"/><path transform="translate(1498.06 482.8) scale(1 1.3)" d="M7.5 0C7.5 6.03 4.65 9.72 0 9.72C-4.65 9.72 -7.5 6.03 -7.5 0C-7.5 -6.03 -4.65 -9.72 0 -9.72C4.65 -9.72 7.5 -6.03 7.5 0Z"/><path d="M1563.49 434.55h2.6v2.2h-2.6zM1563.49 463.65h2.6v2.2h-2.6z" fill="#6a9600" stroke="none" opacity="0.45"/><path transform="translate(1564.79 450.2) scale(1 1.3)" d="M7.5 0C7.5 6.03 4.65 9.72 0 9.72C-4.65 9.72 -7.5 6.03 -7.5 0C-7.5 -6.03 -4.65 -9.72 0 -9.72C4.65 -9.72 7.5 -6.03 7.5 0Z"/><path d="M1626.37 434.55h2.6v2.2h-2.6zM1626.37 463.65h2.6v2.2h-2.6z" fill="#6a9600" stroke="none" opacity="0.45"/><path transform="translate(1627.67 450.2) scale(1 1.3)" d="M7.5 0C7.5 6.03 4.65 9.72 0 9.72C-4.65 9.72 -7.5 6.03 -7.5 0C-7.5 -6.03 -4.65 -9.72 0 -9.72C4.65 -9.72 7.5 -6.03 7.5 0Z"/><path d="M1380.33 462.45h2.6v2.2h-2.6zM1380.33 491.55h2.6v2.2h-2.6z" fill="#6a9600" stroke="none" opacity="0.45"/><path transform="translate(1381.63 478.1) scale(1 1.3)" d="M7.5 0C7.5 6.03 4.65 9.72 0 9.72C-4.65 9.72 -7.5 6.03 -7.5 0C-7.5 -6.03 -4.65 -9.72 0 -9.72C4.65 -9.72 7.5 -6.03 7.5 0Z"/><path d="M1463.09 464.55h2.6v2.2h-2.6zM1463.09 493.65h2.6v2.2h-2.6z" fill="#6a9600" stroke="none" opacity="0.45"/><path transform="translate(1464.39 480.2) scale(1 1.3)" d="M7.5 0C7.5 6.03 4.65 9.72 0 9.72C-4.65 9.72 -7.5 6.03 -7.5 0C-7.5 -6.03 -4.65 -9.72 0 -9.72C4.65 -9.72 7.5 -6.03 7.5 0Z"/><path d="M1477.79 485.35h2.6v2.2h-2.6zM1477.79 514.45h2.6v2.2h-2.6z" fill="#6a9600" stroke="none" opacity="0.45"/><path transform="translate(1479.09 501) scale(1 1.3)" d="M7.5 0C7.5 6.03 4.65 9.72 0 9.72C-4.65 9.72 -7.5 6.03 -7.5 0C-7.5 -6.03 -4.65 -9.72 0 -9.72C4.65 -9.72 7.5 -6.03 7.5 0Z"/><path d="M1818.56 467.15h2.6v2.2h-2.6zM1818.56 496.25h2.6v2.2h-2.6z" fill="#6a9600" stroke="none" opacity="0.45"/><path transform="translate(1819.86 482.8) scale(1 1.3)" d="M7.5 0C7.5 6.03 4.65 9.72 0 9.72C-4.65 9.72 -7.5 6.03 -7.5 0C-7.5 -6.03 -4.65 -9.72 0 -9.72C4.65 -9.72 7.5 -6.03 7.5 0Z"/><path d="M1430.94 517.95h2.6v2.2h-2.6zM1430.94 547.05h2.6v2.2h-2.6z" fill="#6a9600" stroke="none" opacity="0.45"/><path transform="translate(1432.24 533.6) scale(1 1.3)" d="M7.5 0C7.5 6.03 4.65 9.72 0 9.72C-4.65 9.72 -7.5 6.03 -7.5 0C-7.5 -6.03 -4.65 -9.72 0 -9.72C4.65 -9.72 7.5 -6.03 7.5 0Z"/><path d="M1272.02 520.25h2.6v2.2h-2.6zM1272.02 549.35h2.6v2.2h-2.6z" fill="#6a9600" stroke="none" opacity="0.45"/><path transform="translate(1273.32 535.9) scale(1 1.3)" d="M7.5 0C7.5 6.03 4.65 9.72 0 9.72C-4.65 9.72 -7.5 6.03 -7.5 0C-7.5 -6.03 -4.65 -9.72 0 -9.72C4.65 -9.72 7.5 -6.03 7.5 0Z"/><path d="M1318.87 527.05h2.6v2.2h-2.6zM1318.87 556.15h2.6v2.2h-2.6z" fill="#6a9600" stroke="none" opacity="0.45"/><path transform="translate(1320.17 542.7) scale(1 1.3)" d="M7.5 0C7.5 6.03 4.65 9.72 0 9.72C-4.65 9.72 -7.5 6.03 -7.5 0C-7.5 -6.03 -4.65 -9.72 0 -9.72C4.65 -9.72 7.5 -6.03 7.5 0Z"/><path d="M1290.88 571.15h2.6v2.2h-2.6zM1290.88 600.25h2.6v2.2h-2.6z" fill="#6a9600" stroke="none" opacity="0.45"/><path transform="translate(1292.18 586.8) scale(1 1.3)" d="M7.5 0C7.5 6.03 4.65 9.72 0 9.72C-4.65 9.72 -7.5 6.03 -7.5 0C-7.5 -6.03 -4.65 -9.72 0 -9.72C4.65 -9.72 7.5 -6.03 7.5 0Z"/><path d="M1321.61 584.75h2.6v2.2h-2.6zM1321.61 613.85h2.6v2.2h-2.6z" fill="#6a9600" stroke="none" opacity="0.45"/><path transform="translate(1322.91 600.4) scale(1 1.3)" d="M7.5 0C7.5 6.03 4.65 9.72 0 9.72C-4.65 9.72 -7.5 6.03 -7.5 0C-7.5 -6.03 -4.65 -9.72 0 -9.72C4.65 -9.72 7.5 -6.03 7.5 0Z"/><path d="M1473.84 604.95h2.6v2.2h-2.6zM1473.84 634.05h2.6v2.2h-2.6z" fill="#6a9600" stroke="none" opacity="0.45"/><path transform="translate(1475.14 620.6) scale(1 1.3)" d="M7.5 0C7.5 6.03 4.65 9.72 0 9.72C-4.65 9.72 -7.5 6.03 -7.5 0C-7.5 -6.03 -4.65 -9.72 0 -9.72C4.65 -9.72 7.5 -6.03 7.5 0Z"/><path d="M1612.88 577.65h2.6v2.2h-2.6zM1612.88 606.75h2.6v2.2h-2.6z" fill="#6a9600" stroke="none" opacity="0.45"/><path transform="translate(1614.18 593.3) scale(1 1.3)" d="M7.5 0C7.5 6.03 4.65 9.72 0 9.72C-4.65 9.72 -7.5 6.03 -7.5 0C-7.5 -6.03 -4.65 -9.72 0 -9.72C4.65 -9.72 7.5 -6.03 7.5 0Z"/></g>
<g fill="#3366ff" stroke="#2446c0" stroke-width="1.4"><path d="M1472.62 103.35h2.6v2.2h-2.6zM1472.62 132.45h2.6v2.2h-2.6z" fill="#2446c0" stroke="none" opacity="0.45"/><path transform="translate(1473.92 119) scale(1 1.3)" d="M7.5 0C7.5 6.03 4.65 9.72 0 9.72C-4.65 9.72 -7.5 6.03 -7.5 0C-7.5 -6.03 -4.65 -9.72 0 -9.72C4.65 -9.72 7.5 -6.03 7.5 0Z"/><path d="M1479.31 282.85h2.6v2.2h-2.6zM1479.31 311.95h2.6v2.2h-2.6z" fill="#2446c0" stroke="none" opacity="0.45"/><path transform="translate(1480.61 298.5) scale(1 1.3)" d="M7.5 0C7.5 6.03 4.65 9.72 0 9.72C-4.65 9.72 -7.5 6.03 -7.5 0C-7.5 -6.03 -4.65 -9.72 0 -9.72C4.65 -9.72 7.5 -6.03 7.5 0Z"/><path d="M1396.46 340.45h2.6v2.2h-2.6zM1396.46 369.55h2.6v2.2h-2.6z" fill="#2446c0" stroke="none" opacity="0.45"/><path transform="translate(1397.76 356.1) scale(1 1.3)" d="M7.5 0C7.5 6.03 4.65 9.72 0 9.72C-4.65 9.72 -7.5 6.03 -7.5 0C-7.5 -6.03 -4.65 -9.72 0 -9.72C4.65 -9.72 7.5 -6.03 7.5 0Z"/><path d="M1427.08 407.05h2.6v2.2h-2.6zM1427.08 436.15h2.6v2.2h-2.6z" fill="#2446c0" stroke="none" opacity="0.45"/><path transform="translate(1428.38 422.7) scale(1 1.3)" d="M7.5 0C7.5 6.03 4.65 9.72 0 9.72C-4.65 9.72 -7.5 6.03 -7.5 0C-7.5 -6.03 -4.65 -9.72 0 -9.72C4.65 -9.72 7.5 -6.03 7.5 0Z"/><path d="M1514 388.55h2.6v2.2h-2.6zM1514 417.65h2.6v2.2h-2.6z" fill="#2446c0" stroke="none" opacity="0.45"/><path transform="translate(1515.3 404.2) scale(1 1.3)" d="M7.5 0C7.5 6.03 4.65 9.72 0 9.72C-4.65 9.72 -7.5 6.03 -7.5 0C-7.5 -6.03 -4.65 -9.72 0 -9.72C4.65 -9.72 7.5 -6.03 7.5 0Z"/><path d="M1527.28 413.85h2.6v2.2h-2.6zM1527.28 442.95h2.6v2.2h-2.6z" fill="#2446c0" stroke="none" opacity="0.45"/><path transform="translate(1528.58 429.5) scale(1 1.3)" d="M7.5 0C7.5 6.03 4.65 9.72 0 9.72C-4.65 9.72 -7.5 6.03 -7.5 0C-7.5 -6.03 -4.65 -9.72 0 -9.72C4.65 -9.72 7.5 -6.03 7.5 0Z"/><path d="M1564.61 372.65h2.6v2.2h-2.6zM1564.61 401.75h2.6v2.2h-2.6z" fill="#2446c0" stroke="none" opacity="0.45"/><path transform="translate(1565.91 388.3) scale(1 1.3)" d="M7.5 0C7.5 6.03 4.65 9.72 0 9.72C-4.65 9.72 -7.5 6.03 -7.5 0C-7.5 -6.03 -4.65 -9.72 0 -9.72C4.65 -9.72 7.5 -6.03 7.5 0Z"/><path d="M1578.4 365.85h2.6v2.2h-2.6zM1578.4 394.95h2.6v2.2h-2.6z" fill="#2446c0" stroke="none" opacity="0.45"/><path transform="translate(1579.7 381.5) scale(1 1.3)" d="M7.5 0C7.5 6.03 4.65 9.72 0 9.72C-4.65 9.72 -7.5 6.03 -7.5 0C-7.5 -6.03 -4.65 -9.72 0 -9.72C4.65 -9.72 7.5 -6.03 7.5 0Z"/><path d="M1596.76 359.05h2.6v2.2h-2.6zM1596.76 388.15h2.6v2.2h-2.6z" fill="#2446c0" stroke="none" opacity="0.45"/><path transform="translate(1598.06 374.7) scale(1 1.3)" d="M7.5 0C7.5 6.03 4.65 9.72 0 9.72C-4.65 9.72 -7.5 6.03 -7.5 0C-7.5 -6.03 -4.65 -9.72 0 -9.72C4.65 -9.72 7.5 -6.03 7.5 0Z"/><path d="M1547.37 441.35h2.6v2.2h-2.6zM1547.37 470.45h2.6v2.2h-2.6z" fill="#2446c0" stroke="none" opacity="0.45"/><path transform="translate(1548.67 457) scale(1 1.3)" d="M7.5 0C7.5 6.03 4.65 9.72 0 9.72C-4.65 9.72 -7.5 6.03 -7.5 0C-7.5 -6.03 -4.65 -9.72 0 -9.72C4.65 -9.72 7.5 -6.03 7.5 0Z"/><path d="M1407.21 492.25h2.6v2.2h-2.6zM1407.21 521.35h2.6v2.2h-2.6z" fill="#2446c0" stroke="none" opacity="0.45"/><path transform="translate(1408.51 507.9) scale(1 1.3)" d="M7.5 0C7.5 6.03 4.65 9.72 0 9.72C-4.65 9.72 -7.5 6.03 -7.5 0C-7.5 -6.03 -4.65 -9.72 0 -9.72C4.65 -9.72 7.5 -6.03 7.5 0Z"/><path d="M1456.49 492.15h2.6v2.2h-2.6zM1456.49 521.25h2.6v2.2h-2.6z" fill="#2446c0" stroke="none" opacity="0.45"/><path transform="translate(1457.79 507.8) scale(1 1.3)" d="M7.5 0C7.5 6.03 4.65 9.72 0 9.72C-4.65 9.72 -7.5 6.03 -7.5 0C-7.5 -6.03 -4.65 -9.72 0 -9.72C4.65 -9.72 7.5 -6.03 7.5 0Z"/><path d="M1494.42 501.15h2.6v2.2h-2.6zM1494.42 530.25h2.6v2.2h-2.6z" fill="#2446c0" stroke="none" opacity="0.45"/><path transform="translate(1495.72 516.8) scale(1 1.3)" d="M7.5 0C7.5 6.03 4.65 9.72 0 9.72C-4.65 9.72 -7.5 6.03 -7.5 0C-7.5 -6.03 -4.65 -9.72 0 -9.72C4.65 -9.72 7.5 -6.03 7.5 0Z"/><path d="M1488.54 499.35h2.6v2.2h-2.6zM1488.54 528.45h2.6v2.2h-2.6z" fill="#2446c0" stroke="none" opacity="0.45"/><path transform="translate(1489.84 515) scale(1 1.3)" d="M7.5 0C7.5 6.03 4.65 9.72 0 9.72C-4.65 9.72 -7.5 6.03 -7.5 0C-7.5 -6.03 -4.65 -9.72 0 -9.72C4.65 -9.72 7.5 -6.03 7.5 0Z"/><path d="M1523.23 515.45h2.6v2.2h-2.6zM1523.23 544.55h2.6v2.2h-2.6z" fill="#2446c0" stroke="none" opacity="0.45"/><path transform="translate(1524.53 531.1) scale(1 1.3)" d="M7.5 0C7.5 6.03 4.65 9.72 0 9.72C-4.65 9.72 -7.5 6.03 -7.5 0C-7.5 -6.03 -4.65 -9.72 0 -9.72C4.65 -9.72 7.5 -6.03 7.5 0Z"/><path d="M1576.78 531.35h2.6v2.2h-2.6zM1576.78 560.45h2.6v2.2h-2.6z" fill="#2446c0" stroke="none" opacity="0.45"/><path transform="translate(1578.08 547) scale(1 1.3)" d="M7.5 0C7.5 6.03 4.65 9.72 0 9.72C-4.65 9.72 -7.5 6.03 -7.5 0C-7.5 -6.03 -4.65 -9.72 0 -9.72C4.65 -9.72 7.5 -6.03 7.5 0Z"/><path d="M1328.2 510.35h2.6v2.2h-2.6zM1328.2 539.45h2.6v2.2h-2.6z" fill="#2446c0" stroke="none" opacity="0.45"/><path transform="translate(1329.5 526) scale(1 1.3)" d="M7.5 0C7.5 6.03 4.65 9.72 0 9.72C-4.65 9.72 -7.5 6.03 -7.5 0C-7.5 -6.03 -4.65 -9.72 0 -9.72C4.65 -9.72 7.5 -6.03 7.5 0Z"/><path d="M1348.38 528.55h2.6v2.2h-2.6zM1348.38 557.65h2.6v2.2h-2.6z" fill="#2446c0" stroke="none" opacity="0.45"/><path transform="translate(1349.68 544.2) scale(1 1.3)" d="M7.5 0C7.5 6.03 4.65 9.72 0 9.72C-4.65 9.72 -7.5 6.03 -7.5 0C-7.5 -6.03 -4.65 -9.72 0 -9.72C4.65 -9.72 7.5 -6.03 7.5 0Z"/><path d="M1297.47 543.85h2.6v2.2h-2.6zM1297.47 572.95h2.6v2.2h-2.6z" fill="#2446c0" stroke="none" opacity="0.45"/><path transform="translate(1298.77 559.5) scale(1 1.3)" d="M7.5 0C7.5 6.03 4.65 9.72 0 9.72C-4.65 9.72 -7.5 6.03 -7.5 0C-7.5 -6.03 -4.65 -9.72 0 -9.72C4.65 -9.72 7.5 -6.03 7.5 0Z"/><path d="M1385.7 568.35h2.6v2.2h-2.6zM1385.7 597.45h2.6v2.2h-2.6z" fill="#2446c0" stroke="none" opacity="0.45"/><path transform="translate(1387 584) scale(1 1.3)" d="M7.5 0C7.5 6.03 4.65 9.72 0 9.72C-4.65 9.72 -7.5 6.03 -7.5 0C-7.5 -6.03 -4.65 -9.72 0 -9.72C4.65 -9.72 7.5 -6.03 7.5 0Z"/><path d="M1619.47 556.85h2.6v2.2h-2.6zM1619.47 585.95h2.6v2.2h-2.6z" fill="#2446c0" stroke="none" opacity="0.45"/><path transform="translate(1620.77 572.5) scale(1 1.3)" d="M7.5 0C7.5 6.03 4.65 9.72 0 9.72C-4.65 9.72 -7.5 6.03 -7.5 0C-7.5 -6.03 -4.65 -9.72 0 -9.72C4.65 -9.72 7.5 -6.03 7.5 0Z"/><path d="M1588.74 607.85h2.6v2.2h-2.6zM1588.74 636.95h2.6v2.2h-2.6z" fill="#2446c0" stroke="none" opacity="0.45"/><path transform="translate(1590.04 623.5) scale(1 1.3)" d="M7.5 0C7.5 6.03 4.65 9.72 0 9.72C-4.65 9.72 -7.5 6.03 -7.5 0C-7.5 -6.03 -4.65 -9.72 0 -9.72C4.65 -9.72 7.5 -6.03 7.5 0Z"/><path d="M1640.87 598.15h2.6v2.2h-2.6zM1640.87 627.25h2.6v2.2h-2.6z" fill="#2446c0" stroke="none" opacity="0.45"/><path transform="translate(1642.17 613.8) scale(1 1.3)" d="M7.5 0C7.5 6.03 4.65 9.72 0 9.72C-4.65 9.72 -7.5 6.03 -7.5 0C-7.5 -6.03 -4.65 -9.72 0 -9.72C4.65 -9.72 7.5 -6.03 7.5 0Z"/><path d="M1691.89 621.55h2.6v2.2h-2.6zM1691.89 650.65h2.6v2.2h-2.6z" fill="#2446c0" stroke="none" opacity="0.45"/><path transform="translate(1693.19 637.2) scale(1 1.3)" d="M7.5 0C7.5 6.03 4.65 9.72 0 9.72C-4.65 9.72 -7.5 6.03 -7.5 0C-7.5 -6.03 -4.65 -9.72 0 -9.72C4.65 -9.72 7.5 -6.03 7.5 0Z"/><path d="M1830.83 536.15h2.6v2.2h-2.6zM1830.83 565.25h2.6v2.2h-2.6z" fill="#2446c0" stroke="none" opacity="0.45"/><path transform="translate(1832.13 551.8) scale(1 1.3)" d="M7.5 0C7.5 6.03 4.65 9.72 0 9.72C-4.65 9.72 -7.5 6.03 -7.5 0C-7.5 -6.03 -4.65 -9.72 0 -9.72C4.65 -9.72 7.5 -6.03 7.5 0Z"/><path d="M1806.39 667.65h2.6v2.2h-2.6zM1806.39 696.75h2.6v2.2h-2.6z" fill="#2446c0" stroke="none" opacity="0.45"/><path transform="translate(1807.69 683.3) scale(1 1.3)" d="M7.5 0C7.5 6.03 4.65 9.72 0 9.72C-4.65 9.72 -7.5 6.03 -7.5 0C-7.5 -6.03 -4.65 -9.72 0 -9.72C4.65 -9.72 7.5 -6.03 7.5 0Z"/></g>
</svg>
</body></html>
